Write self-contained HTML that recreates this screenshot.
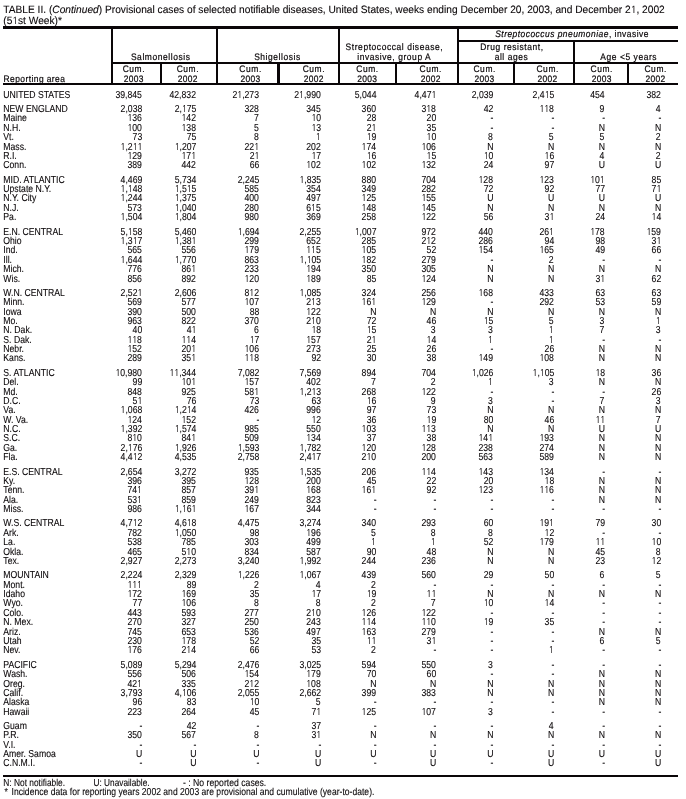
<!DOCTYPE html>
<html><head><meta charset="utf-8"><title>TABLE II. (Continued) Provisional cases of selected notifiable diseases</title>
<style>
html,body{margin:0;padding:0;background:#fff}
body{width:686px;height:799px;position:relative;overflow:hidden;font-family:"Liberation Sans",Arial,Helvetica,sans-serif;color:#0a0608}
.t{position:absolute;white-space:nowrap;line-height:1;text-rendering:geometricPrecision;-webkit-text-stroke:0.1px #0a0608}
.o{font-family:NanumGothic,"Liberation Sans",sans-serif}
.h{-webkit-text-stroke:0.2px #0a0608}
.r{position:absolute;background:#0a0608}
#w{position:absolute;left:0;top:0;width:686px;height:799px;will-change:transform}
</style></head><body><div id="w">
<div class="r" style="left:3px;top:26px;width:675px;height:3px"></div>
<div class="r" style="left:457px;top:40px;width:221px;height:2px"></div>
<div class="r" style="left:111px;top:62px;width:567px;height:2px"></div>
<div class="r" style="left:3px;top:83px;width:675px;height:2px"></div>
<div class="r" style="left:3px;top:775px;width:675px;height:2px"></div>
<div class="r" style="left:111px;top:29px;width:2px;height:56px"></div>
<div class="r" style="left:216px;top:29px;width:2px;height:56px"></div>
<div class="r" style="left:338px;top:29px;width:2px;height:56px"></div>
<div class="r" style="left:457px;top:29px;width:2px;height:56px"></div>
<div class="r" style="left:573px;top:42px;width:2px;height:43px"></div>
<div class="r" style="left:160px;top:64px;width:2px;height:19px"></div>
<div class="r" style="left:277px;top:64px;width:3px;height:19px"></div>
<div class="r" style="left:395px;top:64px;width:2px;height:19px"></div>
<div class="r" style="left:513px;top:64px;width:2px;height:19px"></div>
<div class="r" style="left:627px;top:64px;width:2px;height:19px"></div>
<div class="t" id="title1" style="left:3px;top:4.66px;font-size:10.6px;transform:translateX(0.30px) scaleX(0.961);transform-origin:0 0;">TABLE II. (<i>Continued</i>) Provisional cases of selected notifiable diseases, United States, weeks ending December 20, 2003, and December 2<span class="o" style="font-size:9.82px;letter-spacing:-0.054px">1</span>, 2002</div>
<div class="t" id="title2" style="left:3px;top:16.36px;font-size:10.6px;transform:translateX(0.30px) scaleX(0.961);transform-origin:0 0;">(5<span class="o" style="font-size:9.82px;letter-spacing:-0.054px">1</span>st Week)*</div>
<div class="t h" style="left:3px;top:73.77px;font-size:9.4px;letter-spacing:0.47px;transform:translateX(0.60px) scaleX(0.9);transform-origin:0 0;">Reporting area</div>
<div class="t h" style="left:-40px;width:400px;text-align:center;top:51.67px;font-size:9.4px;letter-spacing:0.64px;transform:translateX(0.69px) scaleX(0.9);transform-origin:50% 0;">Salmonellosis</div>
<div class="t h" style="left:77px;width:400px;text-align:center;top:51.97px;font-size:9.4px;letter-spacing:0.64px;transform:translateX(0.49px) scaleX(0.9);transform-origin:50% 0;">Shigellosis</div>
<div class="t h" style="left:194px;width:400px;text-align:center;top:42.17px;font-size:9.4px;letter-spacing:0.64px;transform:translateX(0.39px) scaleX(0.9);transform-origin:50% 0;">Streptococcal disease,</div>
<div class="t h" style="left:194px;width:400px;text-align:center;top:52.27px;font-size:9.4px;letter-spacing:0.64px;transform:translateX(0.29px) scaleX(0.9);transform-origin:50% 0;">invasive, group A</div>
<div class="t h" style="left:372px;width:400px;text-align:center;top:28.97px;font-size:9.4px;letter-spacing:0.53px;transform:translateX(0.04px) scaleX(0.9);transform-origin:50% 0;"><i>Streptococcus pneumoniae</i>, invasive</div>
<div class="t h" style="left:311px;width:400px;text-align:center;top:42.17px;font-size:9.4px;letter-spacing:0.64px;transform:translateX(0.89px) scaleX(0.9);transform-origin:50% 0;">Drug resistant,</div>
<div class="t h" style="left:311px;width:400px;text-align:center;top:51.77px;font-size:9.4px;letter-spacing:0.64px;transform:translateX(0.49px) scaleX(0.9);transform-origin:50% 0;">all ages</div>
<div class="t h" style="left:428px;width:400px;text-align:center;top:51.77px;font-size:9.4px;letter-spacing:0.64px;transform:translateX(0.69px) scaleX(0.9);transform-origin:50% 0;">Age &lt;5 years</div>
<div class="t h" style="left:-67px;width:400px;text-align:center;top:63.87px;font-size:9.4px;letter-spacing:0.64px;transform:translateX(0.89px) scaleX(0.9);transform-origin:50% 0;">Cum.</div>
<div class="t h" style="left:-67px;width:400px;text-align:center;top:73.87px;font-size:9.4px;letter-spacing:0.35px;transform:translateX(0.76px) scaleX(0.9);transform-origin:50% 0;">2003</div>
<div class="t h" style="left:-13px;width:400px;text-align:center;top:63.87px;font-size:9.4px;letter-spacing:0.64px;transform:translateX(0.89px) scaleX(0.9);transform-origin:50% 0;">Cum.</div>
<div class="t h" style="left:-13px;width:400px;text-align:center;top:73.87px;font-size:9.4px;letter-spacing:0.35px;transform:translateX(0.76px) scaleX(0.9);transform-origin:50% 0;">2002</div>
<div class="t h" style="left:50px;width:400px;text-align:center;top:63.87px;font-size:9.4px;letter-spacing:0.64px;transform:translateX(0.59px) scaleX(0.9);transform-origin:50% 0;">Cum.</div>
<div class="t h" style="left:50px;width:400px;text-align:center;top:73.87px;font-size:9.4px;letter-spacing:0.35px;transform:translateX(0.46px) scaleX(0.9);transform-origin:50% 0;">2003</div>
<div class="t h" style="left:113px;width:400px;text-align:center;top:63.87px;font-size:9.4px;letter-spacing:0.64px;transform:translateX(0.89px) scaleX(0.9);transform-origin:50% 0;">Cum.</div>
<div class="t h" style="left:113px;width:400px;text-align:center;top:73.87px;font-size:9.4px;letter-spacing:0.35px;transform:translateX(0.76px) scaleX(0.9);transform-origin:50% 0;">2002</div>
<div class="t h" style="left:167px;width:400px;text-align:center;top:63.87px;font-size:9.4px;letter-spacing:0.64px;transform:translateX(0.49px) scaleX(0.9);transform-origin:50% 0;">Cum.</div>
<div class="t h" style="left:167px;width:400px;text-align:center;top:73.87px;font-size:9.4px;letter-spacing:0.35px;transform:translateX(0.36px) scaleX(0.9);transform-origin:50% 0;">2003</div>
<div class="t h" style="left:230px;width:400px;text-align:center;top:63.87px;font-size:9.4px;letter-spacing:0.64px;transform:translateX(0.79px) scaleX(0.9);transform-origin:50% 0;">Cum.</div>
<div class="t h" style="left:230px;width:400px;text-align:center;top:73.87px;font-size:9.4px;letter-spacing:0.35px;transform:translateX(0.66px) scaleX(0.9);transform-origin:50% 0;">2002</div>
<div class="t h" style="left:284px;width:400px;text-align:center;top:63.87px;font-size:9.4px;letter-spacing:0.64px;transform:translateX(0.69px) scaleX(0.9);transform-origin:50% 0;">Cum.</div>
<div class="t h" style="left:284px;width:400px;text-align:center;top:73.87px;font-size:9.4px;letter-spacing:0.35px;transform:translateX(0.56px) scaleX(0.9);transform-origin:50% 0;">2003</div>
<div class="t h" style="left:347px;width:400px;text-align:center;top:63.87px;font-size:9.4px;letter-spacing:0.64px;transform:translateX(0.69px) scaleX(0.9);transform-origin:50% 0;">Cum.</div>
<div class="t h" style="left:347px;width:400px;text-align:center;top:73.87px;font-size:9.4px;letter-spacing:0.35px;transform:translateX(0.56px) scaleX(0.9);transform-origin:50% 0;">2002</div>
<div class="t h" style="left:401px;width:400px;text-align:center;top:63.87px;font-size:9.4px;letter-spacing:0.64px;transform:translateX(0.79px) scaleX(0.9);transform-origin:50% 0;">Cum.</div>
<div class="t h" style="left:401px;width:400px;text-align:center;top:73.87px;font-size:9.4px;letter-spacing:0.35px;transform:translateX(0.66px) scaleX(0.9);transform-origin:50% 0;">2003</div>
<div class="t h" style="left:455px;width:400px;text-align:center;top:63.87px;font-size:9.4px;letter-spacing:0.64px;transform:translateX(0.69px) scaleX(0.9);transform-origin:50% 0;">Cum.</div>
<div class="t h" style="left:455px;width:400px;text-align:center;top:73.87px;font-size:9.4px;letter-spacing:0.35px;transform:translateX(0.56px) scaleX(0.9);transform-origin:50% 0;">2002</div>
<div class="t" style="left:3px;top:91.00px;font-size:10.1px;transform:translateX(0.30px) scaleX(0.858);transform-origin:0 0;">UNITED STATES</div>
<div class="t" style="right:544px;top:91.00px;font-size:10.1px;transform:scaleX(0.858);transform-origin:100% 0;">39,845</div>
<div class="t" style="right:489px;top:91.00px;font-size:10.1px;transform:translateX(-0.90px) scaleX(0.858);transform-origin:100% 0;">42,832</div>
<div class="t" style="right:426px;top:91.00px;font-size:10.1px;transform:translateX(-0.90px) scaleX(0.858);transform-origin:100% 0;">2<span class="o" style="font-size:9.35px;letter-spacing:-0.052px">1</span>,273</div>
<div class="t" style="right:365px;top:91.00px;font-size:10.1px;transform:translateX(-0.10px) scaleX(0.858);transform-origin:100% 0;">2<span class="o" style="font-size:9.35px;letter-spacing:-0.052px">1</span>,990</div>
<div class="t" style="right:309px;top:91.00px;font-size:10.1px;transform:translateX(-0.80px) scaleX(0.858);transform-origin:100% 0;">5,044</div>
<div class="t" style="right:250px;top:91.00px;font-size:10.1px;transform:scaleX(0.858);transform-origin:100% 0;">4,47<span class="o" style="font-size:9.35px;letter-spacing:-0.052px">1</span></div>
<div class="t" style="right:192px;top:91.00px;font-size:10.1px;transform:translateX(-0.90px) scaleX(0.858);transform-origin:100% 0;">2,039</div>
<div class="t" style="right:132px;top:91.00px;font-size:10.1px;transform:scaleX(0.858);transform-origin:100% 0;">2,4<span class="o" style="font-size:9.35px;letter-spacing:-0.052px">1</span>5</div>
<div class="t" style="right:81px;top:91.00px;font-size:10.1px;transform:translateX(-0.20px) scaleX(0.858);transform-origin:100% 0;">454</div>
<div class="t" style="right:25px;top:91.00px;font-size:10.1px;transform:scaleX(0.858);transform-origin:100% 0;">382</div>
<div class="t" style="left:3px;top:105.00px;font-size:10.1px;transform:translateX(0.30px) scaleX(0.858);transform-origin:0 0;">NEW ENGLAND</div>
<div class="t" style="right:544px;top:105.00px;font-size:10.1px;transform:scaleX(0.858);transform-origin:100% 0;">2,038</div>
<div class="t" style="right:489px;top:105.00px;font-size:10.1px;transform:translateX(-0.90px) scaleX(0.858);transform-origin:100% 0;">2,<span class="o" style="font-size:9.35px;letter-spacing:-0.052px">1</span>75</div>
<div class="t" style="right:426px;top:105.00px;font-size:10.1px;transform:translateX(-0.90px) scaleX(0.858);transform-origin:100% 0;">328</div>
<div class="t" style="right:365px;top:105.00px;font-size:10.1px;transform:translateX(-0.10px) scaleX(0.858);transform-origin:100% 0;">345</div>
<div class="t" style="right:309px;top:105.00px;font-size:10.1px;transform:translateX(-0.80px) scaleX(0.858);transform-origin:100% 0;">360</div>
<div class="t" style="right:250px;top:105.00px;font-size:10.1px;transform:scaleX(0.858);transform-origin:100% 0;">3<span class="o" style="font-size:9.35px;letter-spacing:-0.052px">1</span>8</div>
<div class="t" style="right:192px;top:105.00px;font-size:10.1px;transform:translateX(-0.90px) scaleX(0.858);transform-origin:100% 0;">42</div>
<div class="t" style="right:132px;top:105.00px;font-size:10.1px;transform:scaleX(0.858);transform-origin:100% 0;"><span class="o" style="font-size:9.35px;letter-spacing:-0.052px">1</span><span class="o" style="font-size:9.35px;letter-spacing:-0.052px">1</span>8</div>
<div class="t" style="right:81px;top:105.00px;font-size:10.1px;transform:translateX(-0.20px) scaleX(0.858);transform-origin:100% 0;">9</div>
<div class="t" style="right:25px;top:105.00px;font-size:10.1px;transform:scaleX(0.858);transform-origin:100% 0;">4</div>
<div class="t" style="left:3px;top:114.00px;font-size:10.1px;transform:translateX(0.30px) scaleX(0.858);transform-origin:0 0;">Maine</div>
<div class="t" style="right:544px;top:114.00px;font-size:10.1px;transform:scaleX(0.858);transform-origin:100% 0;"><span class="o" style="font-size:9.35px;letter-spacing:-0.052px">1</span>36</div>
<div class="t" style="right:489px;top:114.00px;font-size:10.1px;transform:translateX(-0.90px) scaleX(0.858);transform-origin:100% 0;"><span class="o" style="font-size:9.35px;letter-spacing:-0.052px">1</span>42</div>
<div class="t" style="right:426px;top:114.00px;font-size:10.1px;transform:translateX(-0.90px) scaleX(0.858);transform-origin:100% 0;">7</div>
<div class="t" style="right:365px;top:114.00px;font-size:10.1px;transform:translateX(-0.10px) scaleX(0.858);transform-origin:100% 0;"><span class="o" style="font-size:9.35px;letter-spacing:-0.052px">1</span>0</div>
<div class="t" style="right:309px;top:114.00px;font-size:10.1px;transform:translateX(-0.80px) scaleX(0.858);transform-origin:100% 0;">28</div>
<div class="t" style="right:250px;top:114.00px;font-size:10.1px;transform:scaleX(0.858);transform-origin:100% 0;">20</div>
<div class="t" style="right:192px;top:114.00px;font-size:10.1px;transform:translateX(-0.90px) scaleX(0.858);transform-origin:100% 0;">-</div>
<div class="t" style="right:132px;top:114.00px;font-size:10.1px;transform:scaleX(0.858);transform-origin:100% 0;">-</div>
<div class="t" style="right:81px;top:114.00px;font-size:10.1px;transform:translateX(-0.20px) scaleX(0.858);transform-origin:100% 0;">-</div>
<div class="t" style="right:25px;top:114.00px;font-size:10.1px;transform:scaleX(0.858);transform-origin:100% 0;">-</div>
<div class="t" style="left:3px;top:124.00px;font-size:10.1px;transform:translateX(0.30px) scaleX(0.858);transform-origin:0 0;">N.H.</div>
<div class="t" style="right:544px;top:124.00px;font-size:10.1px;transform:scaleX(0.858);transform-origin:100% 0;"><span class="o" style="font-size:9.35px;letter-spacing:-0.052px">1</span>00</div>
<div class="t" style="right:489px;top:124.00px;font-size:10.1px;transform:translateX(-0.90px) scaleX(0.858);transform-origin:100% 0;"><span class="o" style="font-size:9.35px;letter-spacing:-0.052px">1</span>38</div>
<div class="t" style="right:426px;top:124.00px;font-size:10.1px;transform:translateX(-0.90px) scaleX(0.858);transform-origin:100% 0;">5</div>
<div class="t" style="right:365px;top:124.00px;font-size:10.1px;transform:translateX(-0.10px) scaleX(0.858);transform-origin:100% 0;"><span class="o" style="font-size:9.35px;letter-spacing:-0.052px">1</span>3</div>
<div class="t" style="right:309px;top:124.00px;font-size:10.1px;transform:translateX(-0.80px) scaleX(0.858);transform-origin:100% 0;">2<span class="o" style="font-size:9.35px;letter-spacing:-0.052px">1</span></div>
<div class="t" style="right:250px;top:124.00px;font-size:10.1px;transform:scaleX(0.858);transform-origin:100% 0;">35</div>
<div class="t" style="right:192px;top:124.00px;font-size:10.1px;transform:translateX(-0.90px) scaleX(0.858);transform-origin:100% 0;">-</div>
<div class="t" style="right:132px;top:124.00px;font-size:10.1px;transform:scaleX(0.858);transform-origin:100% 0;">-</div>
<div class="t" style="right:81px;top:124.00px;font-size:10.1px;transform:translateX(-0.20px) scaleX(0.858);transform-origin:100% 0;">N</div>
<div class="t" style="right:25px;top:124.00px;font-size:10.1px;transform:scaleX(0.858);transform-origin:100% 0;">N</div>
<div class="t" style="left:3px;top:133.00px;font-size:10.1px;transform:translateX(0.30px) scaleX(0.858);transform-origin:0 0;">Vt.</div>
<div class="t" style="right:544px;top:133.00px;font-size:10.1px;transform:scaleX(0.858);transform-origin:100% 0;">73</div>
<div class="t" style="right:489px;top:133.00px;font-size:10.1px;transform:translateX(-0.90px) scaleX(0.858);transform-origin:100% 0;">75</div>
<div class="t" style="right:426px;top:133.00px;font-size:10.1px;transform:translateX(-0.90px) scaleX(0.858);transform-origin:100% 0;">8</div>
<div class="t" style="right:365px;top:133.00px;font-size:10.1px;transform:translateX(-0.10px) scaleX(0.858);transform-origin:100% 0;"><span class="o" style="font-size:9.35px;letter-spacing:-0.052px">1</span></div>
<div class="t" style="right:309px;top:133.00px;font-size:10.1px;transform:translateX(-0.80px) scaleX(0.858);transform-origin:100% 0;"><span class="o" style="font-size:9.35px;letter-spacing:-0.052px">1</span>9</div>
<div class="t" style="right:250px;top:133.00px;font-size:10.1px;transform:scaleX(0.858);transform-origin:100% 0;"><span class="o" style="font-size:9.35px;letter-spacing:-0.052px">1</span>0</div>
<div class="t" style="right:192px;top:133.00px;font-size:10.1px;transform:translateX(-0.90px) scaleX(0.858);transform-origin:100% 0;">8</div>
<div class="t" style="right:132px;top:133.00px;font-size:10.1px;transform:scaleX(0.858);transform-origin:100% 0;">5</div>
<div class="t" style="right:81px;top:133.00px;font-size:10.1px;transform:translateX(-0.20px) scaleX(0.858);transform-origin:100% 0;">5</div>
<div class="t" style="right:25px;top:133.00px;font-size:10.1px;transform:scaleX(0.858);transform-origin:100% 0;">2</div>
<div class="t" style="left:3px;top:143.00px;font-size:10.1px;transform:translateX(0.30px) scaleX(0.858);transform-origin:0 0;">Mass.</div>
<div class="t" style="right:544px;top:143.00px;font-size:10.1px;transform:scaleX(0.858);transform-origin:100% 0;"><span class="o" style="font-size:9.35px;letter-spacing:-0.052px">1</span>,2<span class="o" style="font-size:9.35px;letter-spacing:-0.052px">1</span><span class="o" style="font-size:9.35px;letter-spacing:-0.052px">1</span></div>
<div class="t" style="right:489px;top:143.00px;font-size:10.1px;transform:translateX(-0.90px) scaleX(0.858);transform-origin:100% 0;"><span class="o" style="font-size:9.35px;letter-spacing:-0.052px">1</span>,207</div>
<div class="t" style="right:426px;top:143.00px;font-size:10.1px;transform:translateX(-0.90px) scaleX(0.858);transform-origin:100% 0;">22<span class="o" style="font-size:9.35px;letter-spacing:-0.052px">1</span></div>
<div class="t" style="right:365px;top:143.00px;font-size:10.1px;transform:translateX(-0.10px) scaleX(0.858);transform-origin:100% 0;">202</div>
<div class="t" style="right:309px;top:143.00px;font-size:10.1px;transform:translateX(-0.80px) scaleX(0.858);transform-origin:100% 0;"><span class="o" style="font-size:9.35px;letter-spacing:-0.052px">1</span>74</div>
<div class="t" style="right:250px;top:143.00px;font-size:10.1px;transform:scaleX(0.858);transform-origin:100% 0;"><span class="o" style="font-size:9.35px;letter-spacing:-0.052px">1</span>06</div>
<div class="t" style="right:192px;top:143.00px;font-size:10.1px;transform:translateX(-0.90px) scaleX(0.858);transform-origin:100% 0;">N</div>
<div class="t" style="right:132px;top:143.00px;font-size:10.1px;transform:scaleX(0.858);transform-origin:100% 0;">N</div>
<div class="t" style="right:81px;top:143.00px;font-size:10.1px;transform:translateX(-0.20px) scaleX(0.858);transform-origin:100% 0;">N</div>
<div class="t" style="right:25px;top:143.00px;font-size:10.1px;transform:scaleX(0.858);transform-origin:100% 0;">N</div>
<div class="t" style="left:3px;top:152.00px;font-size:10.1px;transform:translateX(0.30px) scaleX(0.858);transform-origin:0 0;">R.I.</div>
<div class="t" style="right:544px;top:152.00px;font-size:10.1px;transform:scaleX(0.858);transform-origin:100% 0;"><span class="o" style="font-size:9.35px;letter-spacing:-0.052px">1</span>29</div>
<div class="t" style="right:489px;top:152.00px;font-size:10.1px;transform:translateX(-0.90px) scaleX(0.858);transform-origin:100% 0;"><span class="o" style="font-size:9.35px;letter-spacing:-0.052px">1</span>7<span class="o" style="font-size:9.35px;letter-spacing:-0.052px">1</span></div>
<div class="t" style="right:426px;top:152.00px;font-size:10.1px;transform:translateX(-0.90px) scaleX(0.858);transform-origin:100% 0;">2<span class="o" style="font-size:9.35px;letter-spacing:-0.052px">1</span></div>
<div class="t" style="right:365px;top:152.00px;font-size:10.1px;transform:translateX(-0.10px) scaleX(0.858);transform-origin:100% 0;"><span class="o" style="font-size:9.35px;letter-spacing:-0.052px">1</span>7</div>
<div class="t" style="right:309px;top:152.00px;font-size:10.1px;transform:translateX(-0.80px) scaleX(0.858);transform-origin:100% 0;"><span class="o" style="font-size:9.35px;letter-spacing:-0.052px">1</span>6</div>
<div class="t" style="right:250px;top:152.00px;font-size:10.1px;transform:scaleX(0.858);transform-origin:100% 0;"><span class="o" style="font-size:9.35px;letter-spacing:-0.052px">1</span>5</div>
<div class="t" style="right:192px;top:152.00px;font-size:10.1px;transform:translateX(-0.90px) scaleX(0.858);transform-origin:100% 0;"><span class="o" style="font-size:9.35px;letter-spacing:-0.052px">1</span>0</div>
<div class="t" style="right:132px;top:152.00px;font-size:10.1px;transform:scaleX(0.858);transform-origin:100% 0;"><span class="o" style="font-size:9.35px;letter-spacing:-0.052px">1</span>6</div>
<div class="t" style="right:81px;top:152.00px;font-size:10.1px;transform:translateX(-0.20px) scaleX(0.858);transform-origin:100% 0;">4</div>
<div class="t" style="right:25px;top:152.00px;font-size:10.1px;transform:scaleX(0.858);transform-origin:100% 0;">2</div>
<div class="t" style="left:3px;top:161.00px;font-size:10.1px;transform:translateX(0.30px) scaleX(0.858);transform-origin:0 0;">Conn.</div>
<div class="t" style="right:544px;top:161.00px;font-size:10.1px;transform:scaleX(0.858);transform-origin:100% 0;">389</div>
<div class="t" style="right:489px;top:161.00px;font-size:10.1px;transform:translateX(-0.90px) scaleX(0.858);transform-origin:100% 0;">442</div>
<div class="t" style="right:426px;top:161.00px;font-size:10.1px;transform:translateX(-0.90px) scaleX(0.858);transform-origin:100% 0;">66</div>
<div class="t" style="right:365px;top:161.00px;font-size:10.1px;transform:translateX(-0.10px) scaleX(0.858);transform-origin:100% 0;"><span class="o" style="font-size:9.35px;letter-spacing:-0.052px">1</span>02</div>
<div class="t" style="right:309px;top:161.00px;font-size:10.1px;transform:translateX(-0.80px) scaleX(0.858);transform-origin:100% 0;"><span class="o" style="font-size:9.35px;letter-spacing:-0.052px">1</span>02</div>
<div class="t" style="right:250px;top:161.00px;font-size:10.1px;transform:scaleX(0.858);transform-origin:100% 0;"><span class="o" style="font-size:9.35px;letter-spacing:-0.052px">1</span>32</div>
<div class="t" style="right:192px;top:161.00px;font-size:10.1px;transform:translateX(-0.90px) scaleX(0.858);transform-origin:100% 0;">24</div>
<div class="t" style="right:132px;top:161.00px;font-size:10.1px;transform:scaleX(0.858);transform-origin:100% 0;">97</div>
<div class="t" style="right:81px;top:161.00px;font-size:10.1px;transform:translateX(-0.20px) scaleX(0.858);transform-origin:100% 0;">U</div>
<div class="t" style="right:25px;top:161.00px;font-size:10.1px;transform:scaleX(0.858);transform-origin:100% 0;">U</div>
<div class="t" style="left:3px;top:176.00px;font-size:10.1px;transform:translateX(0.30px) scaleX(0.858);transform-origin:0 0;">MID. ATLANTIC</div>
<div class="t" style="right:544px;top:176.00px;font-size:10.1px;transform:scaleX(0.858);transform-origin:100% 0;">4,469</div>
<div class="t" style="right:489px;top:176.00px;font-size:10.1px;transform:translateX(-0.90px) scaleX(0.858);transform-origin:100% 0;">5,734</div>
<div class="t" style="right:426px;top:176.00px;font-size:10.1px;transform:translateX(-0.90px) scaleX(0.858);transform-origin:100% 0;">2,245</div>
<div class="t" style="right:365px;top:176.00px;font-size:10.1px;transform:translateX(-0.10px) scaleX(0.858);transform-origin:100% 0;"><span class="o" style="font-size:9.35px;letter-spacing:-0.052px">1</span>,835</div>
<div class="t" style="right:309px;top:176.00px;font-size:10.1px;transform:translateX(-0.80px) scaleX(0.858);transform-origin:100% 0;">880</div>
<div class="t" style="right:250px;top:176.00px;font-size:10.1px;transform:scaleX(0.858);transform-origin:100% 0;">704</div>
<div class="t" style="right:192px;top:176.00px;font-size:10.1px;transform:translateX(-0.90px) scaleX(0.858);transform-origin:100% 0;"><span class="o" style="font-size:9.35px;letter-spacing:-0.052px">1</span>28</div>
<div class="t" style="right:132px;top:176.00px;font-size:10.1px;transform:scaleX(0.858);transform-origin:100% 0;"><span class="o" style="font-size:9.35px;letter-spacing:-0.052px">1</span>23</div>
<div class="t" style="right:81px;top:176.00px;font-size:10.1px;transform:translateX(-0.20px) scaleX(0.858);transform-origin:100% 0;"><span class="o" style="font-size:9.35px;letter-spacing:-0.052px">1</span>0<span class="o" style="font-size:9.35px;letter-spacing:-0.052px">1</span></div>
<div class="t" style="right:25px;top:176.00px;font-size:10.1px;transform:scaleX(0.858);transform-origin:100% 0;">85</div>
<div class="t" style="left:3px;top:185.00px;font-size:10.1px;transform:translateX(0.30px) scaleX(0.858);transform-origin:0 0;">Upstate N.Y.</div>
<div class="t" style="right:544px;top:185.00px;font-size:10.1px;transform:scaleX(0.858);transform-origin:100% 0;"><span class="o" style="font-size:9.35px;letter-spacing:-0.052px">1</span>,<span class="o" style="font-size:9.35px;letter-spacing:-0.052px">1</span>48</div>
<div class="t" style="right:489px;top:185.00px;font-size:10.1px;transform:translateX(-0.90px) scaleX(0.858);transform-origin:100% 0;"><span class="o" style="font-size:9.35px;letter-spacing:-0.052px">1</span>,5<span class="o" style="font-size:9.35px;letter-spacing:-0.052px">1</span>5</div>
<div class="t" style="right:426px;top:185.00px;font-size:10.1px;transform:translateX(-0.90px) scaleX(0.858);transform-origin:100% 0;">585</div>
<div class="t" style="right:365px;top:185.00px;font-size:10.1px;transform:translateX(-0.10px) scaleX(0.858);transform-origin:100% 0;">354</div>
<div class="t" style="right:309px;top:185.00px;font-size:10.1px;transform:translateX(-0.80px) scaleX(0.858);transform-origin:100% 0;">349</div>
<div class="t" style="right:250px;top:185.00px;font-size:10.1px;transform:scaleX(0.858);transform-origin:100% 0;">282</div>
<div class="t" style="right:192px;top:185.00px;font-size:10.1px;transform:translateX(-0.90px) scaleX(0.858);transform-origin:100% 0;">72</div>
<div class="t" style="right:132px;top:185.00px;font-size:10.1px;transform:scaleX(0.858);transform-origin:100% 0;">92</div>
<div class="t" style="right:81px;top:185.00px;font-size:10.1px;transform:translateX(-0.20px) scaleX(0.858);transform-origin:100% 0;">77</div>
<div class="t" style="right:25px;top:185.00px;font-size:10.1px;transform:scaleX(0.858);transform-origin:100% 0;">7<span class="o" style="font-size:9.35px;letter-spacing:-0.052px">1</span></div>
<div class="t" style="left:3px;top:194.00px;font-size:10.1px;transform:translateX(0.30px) scaleX(0.858);transform-origin:0 0;">N.Y. City</div>
<div class="t" style="right:544px;top:194.00px;font-size:10.1px;transform:scaleX(0.858);transform-origin:100% 0;"><span class="o" style="font-size:9.35px;letter-spacing:-0.052px">1</span>,244</div>
<div class="t" style="right:489px;top:194.00px;font-size:10.1px;transform:translateX(-0.90px) scaleX(0.858);transform-origin:100% 0;"><span class="o" style="font-size:9.35px;letter-spacing:-0.052px">1</span>,375</div>
<div class="t" style="right:426px;top:194.00px;font-size:10.1px;transform:translateX(-0.90px) scaleX(0.858);transform-origin:100% 0;">400</div>
<div class="t" style="right:365px;top:194.00px;font-size:10.1px;transform:translateX(-0.10px) scaleX(0.858);transform-origin:100% 0;">497</div>
<div class="t" style="right:309px;top:194.00px;font-size:10.1px;transform:translateX(-0.80px) scaleX(0.858);transform-origin:100% 0;"><span class="o" style="font-size:9.35px;letter-spacing:-0.052px">1</span>25</div>
<div class="t" style="right:250px;top:194.00px;font-size:10.1px;transform:scaleX(0.858);transform-origin:100% 0;"><span class="o" style="font-size:9.35px;letter-spacing:-0.052px">1</span>55</div>
<div class="t" style="right:192px;top:194.00px;font-size:10.1px;transform:translateX(-0.90px) scaleX(0.858);transform-origin:100% 0;">U</div>
<div class="t" style="right:132px;top:194.00px;font-size:10.1px;transform:scaleX(0.858);transform-origin:100% 0;">U</div>
<div class="t" style="right:81px;top:194.00px;font-size:10.1px;transform:translateX(-0.20px) scaleX(0.858);transform-origin:100% 0;">U</div>
<div class="t" style="right:25px;top:194.00px;font-size:10.1px;transform:scaleX(0.858);transform-origin:100% 0;">U</div>
<div class="t" style="left:3px;top:204.00px;font-size:10.1px;transform:translateX(0.30px) scaleX(0.858);transform-origin:0 0;">N.J.</div>
<div class="t" style="right:544px;top:204.00px;font-size:10.1px;transform:scaleX(0.858);transform-origin:100% 0;">573</div>
<div class="t" style="right:489px;top:204.00px;font-size:10.1px;transform:translateX(-0.90px) scaleX(0.858);transform-origin:100% 0;"><span class="o" style="font-size:9.35px;letter-spacing:-0.052px">1</span>,040</div>
<div class="t" style="right:426px;top:204.00px;font-size:10.1px;transform:translateX(-0.90px) scaleX(0.858);transform-origin:100% 0;">280</div>
<div class="t" style="right:365px;top:204.00px;font-size:10.1px;transform:translateX(-0.10px) scaleX(0.858);transform-origin:100% 0;">6<span class="o" style="font-size:9.35px;letter-spacing:-0.052px">1</span>5</div>
<div class="t" style="right:309px;top:204.00px;font-size:10.1px;transform:translateX(-0.80px) scaleX(0.858);transform-origin:100% 0;"><span class="o" style="font-size:9.35px;letter-spacing:-0.052px">1</span>48</div>
<div class="t" style="right:250px;top:204.00px;font-size:10.1px;transform:scaleX(0.858);transform-origin:100% 0;"><span class="o" style="font-size:9.35px;letter-spacing:-0.052px">1</span>45</div>
<div class="t" style="right:192px;top:204.00px;font-size:10.1px;transform:translateX(-0.90px) scaleX(0.858);transform-origin:100% 0;">N</div>
<div class="t" style="right:132px;top:204.00px;font-size:10.1px;transform:scaleX(0.858);transform-origin:100% 0;">N</div>
<div class="t" style="right:81px;top:204.00px;font-size:10.1px;transform:translateX(-0.20px) scaleX(0.858);transform-origin:100% 0;">N</div>
<div class="t" style="right:25px;top:204.00px;font-size:10.1px;transform:scaleX(0.858);transform-origin:100% 0;">N</div>
<div class="t" style="left:3px;top:213.00px;font-size:10.1px;transform:translateX(0.30px) scaleX(0.858);transform-origin:0 0;">Pa.</div>
<div class="t" style="right:544px;top:213.00px;font-size:10.1px;transform:scaleX(0.858);transform-origin:100% 0;"><span class="o" style="font-size:9.35px;letter-spacing:-0.052px">1</span>,504</div>
<div class="t" style="right:489px;top:213.00px;font-size:10.1px;transform:translateX(-0.90px) scaleX(0.858);transform-origin:100% 0;"><span class="o" style="font-size:9.35px;letter-spacing:-0.052px">1</span>,804</div>
<div class="t" style="right:426px;top:213.00px;font-size:10.1px;transform:translateX(-0.90px) scaleX(0.858);transform-origin:100% 0;">980</div>
<div class="t" style="right:365px;top:213.00px;font-size:10.1px;transform:translateX(-0.10px) scaleX(0.858);transform-origin:100% 0;">369</div>
<div class="t" style="right:309px;top:213.00px;font-size:10.1px;transform:translateX(-0.80px) scaleX(0.858);transform-origin:100% 0;">258</div>
<div class="t" style="right:250px;top:213.00px;font-size:10.1px;transform:scaleX(0.858);transform-origin:100% 0;"><span class="o" style="font-size:9.35px;letter-spacing:-0.052px">1</span>22</div>
<div class="t" style="right:192px;top:213.00px;font-size:10.1px;transform:translateX(-0.90px) scaleX(0.858);transform-origin:100% 0;">56</div>
<div class="t" style="right:132px;top:213.00px;font-size:10.1px;transform:scaleX(0.858);transform-origin:100% 0;">3<span class="o" style="font-size:9.35px;letter-spacing:-0.052px">1</span></div>
<div class="t" style="right:81px;top:213.00px;font-size:10.1px;transform:translateX(-0.20px) scaleX(0.858);transform-origin:100% 0;">24</div>
<div class="t" style="right:25px;top:213.00px;font-size:10.1px;transform:scaleX(0.858);transform-origin:100% 0;"><span class="o" style="font-size:9.35px;letter-spacing:-0.052px">1</span>4</div>
<div class="t" style="left:3px;top:228.00px;font-size:10.1px;transform:translateX(0.30px) scaleX(0.858);transform-origin:0 0;">E.N. CENTRAL</div>
<div class="t" style="right:544px;top:228.00px;font-size:10.1px;transform:scaleX(0.858);transform-origin:100% 0;">5,<span class="o" style="font-size:9.35px;letter-spacing:-0.052px">1</span>58</div>
<div class="t" style="right:489px;top:228.00px;font-size:10.1px;transform:translateX(-0.90px) scaleX(0.858);transform-origin:100% 0;">5,460</div>
<div class="t" style="right:426px;top:228.00px;font-size:10.1px;transform:translateX(-0.90px) scaleX(0.858);transform-origin:100% 0;"><span class="o" style="font-size:9.35px;letter-spacing:-0.052px">1</span>,694</div>
<div class="t" style="right:365px;top:228.00px;font-size:10.1px;transform:translateX(-0.10px) scaleX(0.858);transform-origin:100% 0;">2,255</div>
<div class="t" style="right:309px;top:228.00px;font-size:10.1px;transform:translateX(-0.80px) scaleX(0.858);transform-origin:100% 0;"><span class="o" style="font-size:9.35px;letter-spacing:-0.052px">1</span>,007</div>
<div class="t" style="right:250px;top:228.00px;font-size:10.1px;transform:scaleX(0.858);transform-origin:100% 0;">972</div>
<div class="t" style="right:192px;top:228.00px;font-size:10.1px;transform:translateX(-0.90px) scaleX(0.858);transform-origin:100% 0;">440</div>
<div class="t" style="right:132px;top:228.00px;font-size:10.1px;transform:scaleX(0.858);transform-origin:100% 0;">26<span class="o" style="font-size:9.35px;letter-spacing:-0.052px">1</span></div>
<div class="t" style="right:81px;top:228.00px;font-size:10.1px;transform:translateX(-0.20px) scaleX(0.858);transform-origin:100% 0;"><span class="o" style="font-size:9.35px;letter-spacing:-0.052px">1</span>78</div>
<div class="t" style="right:25px;top:228.00px;font-size:10.1px;transform:scaleX(0.858);transform-origin:100% 0;"><span class="o" style="font-size:9.35px;letter-spacing:-0.052px">1</span>59</div>
<div class="t" style="left:3px;top:237.00px;font-size:10.1px;transform:translateX(0.30px) scaleX(0.858);transform-origin:0 0;">Ohio</div>
<div class="t" style="right:544px;top:237.00px;font-size:10.1px;transform:scaleX(0.858);transform-origin:100% 0;"><span class="o" style="font-size:9.35px;letter-spacing:-0.052px">1</span>,3<span class="o" style="font-size:9.35px;letter-spacing:-0.052px">1</span>7</div>
<div class="t" style="right:489px;top:237.00px;font-size:10.1px;transform:translateX(-0.90px) scaleX(0.858);transform-origin:100% 0;"><span class="o" style="font-size:9.35px;letter-spacing:-0.052px">1</span>,38<span class="o" style="font-size:9.35px;letter-spacing:-0.052px">1</span></div>
<div class="t" style="right:426px;top:237.00px;font-size:10.1px;transform:translateX(-0.90px) scaleX(0.858);transform-origin:100% 0;">299</div>
<div class="t" style="right:365px;top:237.00px;font-size:10.1px;transform:translateX(-0.10px) scaleX(0.858);transform-origin:100% 0;">652</div>
<div class="t" style="right:309px;top:237.00px;font-size:10.1px;transform:translateX(-0.80px) scaleX(0.858);transform-origin:100% 0;">285</div>
<div class="t" style="right:250px;top:237.00px;font-size:10.1px;transform:scaleX(0.858);transform-origin:100% 0;">2<span class="o" style="font-size:9.35px;letter-spacing:-0.052px">1</span>2</div>
<div class="t" style="right:192px;top:237.00px;font-size:10.1px;transform:translateX(-0.90px) scaleX(0.858);transform-origin:100% 0;">286</div>
<div class="t" style="right:132px;top:237.00px;font-size:10.1px;transform:scaleX(0.858);transform-origin:100% 0;">94</div>
<div class="t" style="right:81px;top:237.00px;font-size:10.1px;transform:translateX(-0.20px) scaleX(0.858);transform-origin:100% 0;">98</div>
<div class="t" style="right:25px;top:237.00px;font-size:10.1px;transform:scaleX(0.858);transform-origin:100% 0;">3<span class="o" style="font-size:9.35px;letter-spacing:-0.052px">1</span></div>
<div class="t" style="left:3px;top:246.00px;font-size:10.1px;transform:translateX(0.30px) scaleX(0.858);transform-origin:0 0;">Ind.</div>
<div class="t" style="right:544px;top:246.00px;font-size:10.1px;transform:scaleX(0.858);transform-origin:100% 0;">565</div>
<div class="t" style="right:489px;top:246.00px;font-size:10.1px;transform:translateX(-0.90px) scaleX(0.858);transform-origin:100% 0;">556</div>
<div class="t" style="right:426px;top:246.00px;font-size:10.1px;transform:translateX(-0.90px) scaleX(0.858);transform-origin:100% 0;"><span class="o" style="font-size:9.35px;letter-spacing:-0.052px">1</span>79</div>
<div class="t" style="right:365px;top:246.00px;font-size:10.1px;transform:translateX(-0.10px) scaleX(0.858);transform-origin:100% 0;"><span class="o" style="font-size:9.35px;letter-spacing:-0.052px">1</span><span class="o" style="font-size:9.35px;letter-spacing:-0.052px">1</span>5</div>
<div class="t" style="right:309px;top:246.00px;font-size:10.1px;transform:translateX(-0.80px) scaleX(0.858);transform-origin:100% 0;"><span class="o" style="font-size:9.35px;letter-spacing:-0.052px">1</span>05</div>
<div class="t" style="right:250px;top:246.00px;font-size:10.1px;transform:scaleX(0.858);transform-origin:100% 0;">52</div>
<div class="t" style="right:192px;top:246.00px;font-size:10.1px;transform:translateX(-0.90px) scaleX(0.858);transform-origin:100% 0;"><span class="o" style="font-size:9.35px;letter-spacing:-0.052px">1</span>54</div>
<div class="t" style="right:132px;top:246.00px;font-size:10.1px;transform:scaleX(0.858);transform-origin:100% 0;"><span class="o" style="font-size:9.35px;letter-spacing:-0.052px">1</span>65</div>
<div class="t" style="right:81px;top:246.00px;font-size:10.1px;transform:translateX(-0.20px) scaleX(0.858);transform-origin:100% 0;">49</div>
<div class="t" style="right:25px;top:246.00px;font-size:10.1px;transform:scaleX(0.858);transform-origin:100% 0;">66</div>
<div class="t" style="left:3px;top:256.00px;font-size:10.1px;transform:translateX(0.30px) scaleX(0.858);transform-origin:0 0;">Ill.</div>
<div class="t" style="right:544px;top:256.00px;font-size:10.1px;transform:scaleX(0.858);transform-origin:100% 0;"><span class="o" style="font-size:9.35px;letter-spacing:-0.052px">1</span>,644</div>
<div class="t" style="right:489px;top:256.00px;font-size:10.1px;transform:translateX(-0.90px) scaleX(0.858);transform-origin:100% 0;"><span class="o" style="font-size:9.35px;letter-spacing:-0.052px">1</span>,770</div>
<div class="t" style="right:426px;top:256.00px;font-size:10.1px;transform:translateX(-0.90px) scaleX(0.858);transform-origin:100% 0;">863</div>
<div class="t" style="right:365px;top:256.00px;font-size:10.1px;transform:translateX(-0.10px) scaleX(0.858);transform-origin:100% 0;"><span class="o" style="font-size:9.35px;letter-spacing:-0.052px">1</span>,<span class="o" style="font-size:9.35px;letter-spacing:-0.052px">1</span>05</div>
<div class="t" style="right:309px;top:256.00px;font-size:10.1px;transform:translateX(-0.80px) scaleX(0.858);transform-origin:100% 0;"><span class="o" style="font-size:9.35px;letter-spacing:-0.052px">1</span>82</div>
<div class="t" style="right:250px;top:256.00px;font-size:10.1px;transform:scaleX(0.858);transform-origin:100% 0;">279</div>
<div class="t" style="right:192px;top:256.00px;font-size:10.1px;transform:translateX(-0.90px) scaleX(0.858);transform-origin:100% 0;">-</div>
<div class="t" style="right:132px;top:256.00px;font-size:10.1px;transform:scaleX(0.858);transform-origin:100% 0;">2</div>
<div class="t" style="right:81px;top:256.00px;font-size:10.1px;transform:translateX(-0.20px) scaleX(0.858);transform-origin:100% 0;">-</div>
<div class="t" style="right:25px;top:256.00px;font-size:10.1px;transform:scaleX(0.858);transform-origin:100% 0;">-</div>
<div class="t" style="left:3px;top:265.00px;font-size:10.1px;transform:translateX(0.30px) scaleX(0.858);transform-origin:0 0;">Mich.</div>
<div class="t" style="right:544px;top:265.00px;font-size:10.1px;transform:scaleX(0.858);transform-origin:100% 0;">776</div>
<div class="t" style="right:489px;top:265.00px;font-size:10.1px;transform:translateX(-0.90px) scaleX(0.858);transform-origin:100% 0;">86<span class="o" style="font-size:9.35px;letter-spacing:-0.052px">1</span></div>
<div class="t" style="right:426px;top:265.00px;font-size:10.1px;transform:translateX(-0.90px) scaleX(0.858);transform-origin:100% 0;">233</div>
<div class="t" style="right:365px;top:265.00px;font-size:10.1px;transform:translateX(-0.10px) scaleX(0.858);transform-origin:100% 0;"><span class="o" style="font-size:9.35px;letter-spacing:-0.052px">1</span>94</div>
<div class="t" style="right:309px;top:265.00px;font-size:10.1px;transform:translateX(-0.80px) scaleX(0.858);transform-origin:100% 0;">350</div>
<div class="t" style="right:250px;top:265.00px;font-size:10.1px;transform:scaleX(0.858);transform-origin:100% 0;">305</div>
<div class="t" style="right:192px;top:265.00px;font-size:10.1px;transform:translateX(-0.90px) scaleX(0.858);transform-origin:100% 0;">N</div>
<div class="t" style="right:132px;top:265.00px;font-size:10.1px;transform:scaleX(0.858);transform-origin:100% 0;">N</div>
<div class="t" style="right:81px;top:265.00px;font-size:10.1px;transform:translateX(-0.20px) scaleX(0.858);transform-origin:100% 0;">N</div>
<div class="t" style="right:25px;top:265.00px;font-size:10.1px;transform:scaleX(0.858);transform-origin:100% 0;">N</div>
<div class="t" style="left:3px;top:275.00px;font-size:10.1px;transform:translateX(0.30px) scaleX(0.858);transform-origin:0 0;">Wis.</div>
<div class="t" style="right:544px;top:275.00px;font-size:10.1px;transform:scaleX(0.858);transform-origin:100% 0;">856</div>
<div class="t" style="right:489px;top:275.00px;font-size:10.1px;transform:translateX(-0.90px) scaleX(0.858);transform-origin:100% 0;">892</div>
<div class="t" style="right:426px;top:275.00px;font-size:10.1px;transform:translateX(-0.90px) scaleX(0.858);transform-origin:100% 0;"><span class="o" style="font-size:9.35px;letter-spacing:-0.052px">1</span>20</div>
<div class="t" style="right:365px;top:275.00px;font-size:10.1px;transform:translateX(-0.10px) scaleX(0.858);transform-origin:100% 0;"><span class="o" style="font-size:9.35px;letter-spacing:-0.052px">1</span>89</div>
<div class="t" style="right:309px;top:275.00px;font-size:10.1px;transform:translateX(-0.80px) scaleX(0.858);transform-origin:100% 0;">85</div>
<div class="t" style="right:250px;top:275.00px;font-size:10.1px;transform:scaleX(0.858);transform-origin:100% 0;"><span class="o" style="font-size:9.35px;letter-spacing:-0.052px">1</span>24</div>
<div class="t" style="right:192px;top:275.00px;font-size:10.1px;transform:translateX(-0.90px) scaleX(0.858);transform-origin:100% 0;">N</div>
<div class="t" style="right:132px;top:275.00px;font-size:10.1px;transform:scaleX(0.858);transform-origin:100% 0;">N</div>
<div class="t" style="right:81px;top:275.00px;font-size:10.1px;transform:translateX(-0.20px) scaleX(0.858);transform-origin:100% 0;">3<span class="o" style="font-size:9.35px;letter-spacing:-0.052px">1</span></div>
<div class="t" style="right:25px;top:275.00px;font-size:10.1px;transform:scaleX(0.858);transform-origin:100% 0;">62</div>
<div class="t" style="left:3px;top:289.00px;font-size:10.1px;transform:translateX(0.30px) scaleX(0.858);transform-origin:0 0;">W.N. CENTRAL</div>
<div class="t" style="right:544px;top:289.00px;font-size:10.1px;transform:scaleX(0.858);transform-origin:100% 0;">2,52<span class="o" style="font-size:9.35px;letter-spacing:-0.052px">1</span></div>
<div class="t" style="right:489px;top:289.00px;font-size:10.1px;transform:translateX(-0.90px) scaleX(0.858);transform-origin:100% 0;">2,606</div>
<div class="t" style="right:426px;top:289.00px;font-size:10.1px;transform:translateX(-0.90px) scaleX(0.858);transform-origin:100% 0;">8<span class="o" style="font-size:9.35px;letter-spacing:-0.052px">1</span>2</div>
<div class="t" style="right:365px;top:289.00px;font-size:10.1px;transform:translateX(-0.10px) scaleX(0.858);transform-origin:100% 0;"><span class="o" style="font-size:9.35px;letter-spacing:-0.052px">1</span>,085</div>
<div class="t" style="right:309px;top:289.00px;font-size:10.1px;transform:translateX(-0.80px) scaleX(0.858);transform-origin:100% 0;">324</div>
<div class="t" style="right:250px;top:289.00px;font-size:10.1px;transform:scaleX(0.858);transform-origin:100% 0;">256</div>
<div class="t" style="right:192px;top:289.00px;font-size:10.1px;transform:translateX(-0.90px) scaleX(0.858);transform-origin:100% 0;"><span class="o" style="font-size:9.35px;letter-spacing:-0.052px">1</span>68</div>
<div class="t" style="right:132px;top:289.00px;font-size:10.1px;transform:scaleX(0.858);transform-origin:100% 0;">433</div>
<div class="t" style="right:81px;top:289.00px;font-size:10.1px;transform:translateX(-0.20px) scaleX(0.858);transform-origin:100% 0;">63</div>
<div class="t" style="right:25px;top:289.00px;font-size:10.1px;transform:scaleX(0.858);transform-origin:100% 0;">63</div>
<div class="t" style="left:3px;top:298.00px;font-size:10.1px;transform:translateX(0.30px) scaleX(0.858);transform-origin:0 0;">Minn.</div>
<div class="t" style="right:544px;top:298.00px;font-size:10.1px;transform:scaleX(0.858);transform-origin:100% 0;">569</div>
<div class="t" style="right:489px;top:298.00px;font-size:10.1px;transform:translateX(-0.90px) scaleX(0.858);transform-origin:100% 0;">577</div>
<div class="t" style="right:426px;top:298.00px;font-size:10.1px;transform:translateX(-0.90px) scaleX(0.858);transform-origin:100% 0;"><span class="o" style="font-size:9.35px;letter-spacing:-0.052px">1</span>07</div>
<div class="t" style="right:365px;top:298.00px;font-size:10.1px;transform:translateX(-0.10px) scaleX(0.858);transform-origin:100% 0;">2<span class="o" style="font-size:9.35px;letter-spacing:-0.052px">1</span>3</div>
<div class="t" style="right:309px;top:298.00px;font-size:10.1px;transform:translateX(-0.80px) scaleX(0.858);transform-origin:100% 0;"><span class="o" style="font-size:9.35px;letter-spacing:-0.052px">1</span>6<span class="o" style="font-size:9.35px;letter-spacing:-0.052px">1</span></div>
<div class="t" style="right:250px;top:298.00px;font-size:10.1px;transform:scaleX(0.858);transform-origin:100% 0;"><span class="o" style="font-size:9.35px;letter-spacing:-0.052px">1</span>29</div>
<div class="t" style="right:192px;top:298.00px;font-size:10.1px;transform:translateX(-0.90px) scaleX(0.858);transform-origin:100% 0;">-</div>
<div class="t" style="right:132px;top:298.00px;font-size:10.1px;transform:scaleX(0.858);transform-origin:100% 0;">292</div>
<div class="t" style="right:81px;top:298.00px;font-size:10.1px;transform:translateX(-0.20px) scaleX(0.858);transform-origin:100% 0;">53</div>
<div class="t" style="right:25px;top:298.00px;font-size:10.1px;transform:scaleX(0.858);transform-origin:100% 0;">59</div>
<div class="t" style="left:3px;top:308.00px;font-size:10.1px;transform:translateX(0.30px) scaleX(0.858);transform-origin:0 0;">Iowa</div>
<div class="t" style="right:544px;top:308.00px;font-size:10.1px;transform:scaleX(0.858);transform-origin:100% 0;">390</div>
<div class="t" style="right:489px;top:308.00px;font-size:10.1px;transform:translateX(-0.90px) scaleX(0.858);transform-origin:100% 0;">500</div>
<div class="t" style="right:426px;top:308.00px;font-size:10.1px;transform:translateX(-0.90px) scaleX(0.858);transform-origin:100% 0;">88</div>
<div class="t" style="right:365px;top:308.00px;font-size:10.1px;transform:translateX(-0.10px) scaleX(0.858);transform-origin:100% 0;"><span class="o" style="font-size:9.35px;letter-spacing:-0.052px">1</span>22</div>
<div class="t" style="right:309px;top:308.00px;font-size:10.1px;transform:translateX(-0.80px) scaleX(0.858);transform-origin:100% 0;">N</div>
<div class="t" style="right:250px;top:308.00px;font-size:10.1px;transform:scaleX(0.858);transform-origin:100% 0;">N</div>
<div class="t" style="right:192px;top:308.00px;font-size:10.1px;transform:translateX(-0.90px) scaleX(0.858);transform-origin:100% 0;">N</div>
<div class="t" style="right:132px;top:308.00px;font-size:10.1px;transform:scaleX(0.858);transform-origin:100% 0;">N</div>
<div class="t" style="right:81px;top:308.00px;font-size:10.1px;transform:translateX(-0.20px) scaleX(0.858);transform-origin:100% 0;">N</div>
<div class="t" style="right:25px;top:308.00px;font-size:10.1px;transform:scaleX(0.858);transform-origin:100% 0;">N</div>
<div class="t" style="left:3px;top:317.00px;font-size:10.1px;transform:translateX(0.30px) scaleX(0.858);transform-origin:0 0;">Mo.</div>
<div class="t" style="right:544px;top:317.00px;font-size:10.1px;transform:scaleX(0.858);transform-origin:100% 0;">963</div>
<div class="t" style="right:489px;top:317.00px;font-size:10.1px;transform:translateX(-0.90px) scaleX(0.858);transform-origin:100% 0;">822</div>
<div class="t" style="right:426px;top:317.00px;font-size:10.1px;transform:translateX(-0.90px) scaleX(0.858);transform-origin:100% 0;">370</div>
<div class="t" style="right:365px;top:317.00px;font-size:10.1px;transform:translateX(-0.10px) scaleX(0.858);transform-origin:100% 0;">2<span class="o" style="font-size:9.35px;letter-spacing:-0.052px">1</span>0</div>
<div class="t" style="right:309px;top:317.00px;font-size:10.1px;transform:translateX(-0.80px) scaleX(0.858);transform-origin:100% 0;">72</div>
<div class="t" style="right:250px;top:317.00px;font-size:10.1px;transform:scaleX(0.858);transform-origin:100% 0;">46</div>
<div class="t" style="right:192px;top:317.00px;font-size:10.1px;transform:translateX(-0.90px) scaleX(0.858);transform-origin:100% 0;"><span class="o" style="font-size:9.35px;letter-spacing:-0.052px">1</span>5</div>
<div class="t" style="right:132px;top:317.00px;font-size:10.1px;transform:scaleX(0.858);transform-origin:100% 0;">5</div>
<div class="t" style="right:81px;top:317.00px;font-size:10.1px;transform:translateX(-0.20px) scaleX(0.858);transform-origin:100% 0;">3</div>
<div class="t" style="right:25px;top:317.00px;font-size:10.1px;transform:scaleX(0.858);transform-origin:100% 0;"><span class="o" style="font-size:9.35px;letter-spacing:-0.052px">1</span></div>
<div class="t" style="left:3px;top:326.00px;font-size:10.1px;transform:translateX(0.30px) scaleX(0.858);transform-origin:0 0;">N. Dak.</div>
<div class="t" style="right:544px;top:326.00px;font-size:10.1px;transform:scaleX(0.858);transform-origin:100% 0;">40</div>
<div class="t" style="right:489px;top:326.00px;font-size:10.1px;transform:translateX(-0.90px) scaleX(0.858);transform-origin:100% 0;">4<span class="o" style="font-size:9.35px;letter-spacing:-0.052px">1</span></div>
<div class="t" style="right:426px;top:326.00px;font-size:10.1px;transform:translateX(-0.90px) scaleX(0.858);transform-origin:100% 0;">6</div>
<div class="t" style="right:365px;top:326.00px;font-size:10.1px;transform:translateX(-0.10px) scaleX(0.858);transform-origin:100% 0;"><span class="o" style="font-size:9.35px;letter-spacing:-0.052px">1</span>8</div>
<div class="t" style="right:309px;top:326.00px;font-size:10.1px;transform:translateX(-0.80px) scaleX(0.858);transform-origin:100% 0;"><span class="o" style="font-size:9.35px;letter-spacing:-0.052px">1</span>5</div>
<div class="t" style="right:250px;top:326.00px;font-size:10.1px;transform:scaleX(0.858);transform-origin:100% 0;">3</div>
<div class="t" style="right:192px;top:326.00px;font-size:10.1px;transform:translateX(-0.90px) scaleX(0.858);transform-origin:100% 0;">3</div>
<div class="t" style="right:132px;top:326.00px;font-size:10.1px;transform:scaleX(0.858);transform-origin:100% 0;"><span class="o" style="font-size:9.35px;letter-spacing:-0.052px">1</span></div>
<div class="t" style="right:81px;top:326.00px;font-size:10.1px;transform:translateX(-0.20px) scaleX(0.858);transform-origin:100% 0;">7</div>
<div class="t" style="right:25px;top:326.00px;font-size:10.1px;transform:scaleX(0.858);transform-origin:100% 0;">3</div>
<div class="t" style="left:3px;top:336.00px;font-size:10.1px;transform:translateX(0.30px) scaleX(0.858);transform-origin:0 0;">S. Dak.</div>
<div class="t" style="right:544px;top:336.00px;font-size:10.1px;transform:scaleX(0.858);transform-origin:100% 0;"><span class="o" style="font-size:9.35px;letter-spacing:-0.052px">1</span><span class="o" style="font-size:9.35px;letter-spacing:-0.052px">1</span>8</div>
<div class="t" style="right:489px;top:336.00px;font-size:10.1px;transform:translateX(-0.90px) scaleX(0.858);transform-origin:100% 0;"><span class="o" style="font-size:9.35px;letter-spacing:-0.052px">1</span><span class="o" style="font-size:9.35px;letter-spacing:-0.052px">1</span>4</div>
<div class="t" style="right:426px;top:336.00px;font-size:10.1px;transform:translateX(-0.90px) scaleX(0.858);transform-origin:100% 0;"><span class="o" style="font-size:9.35px;letter-spacing:-0.052px">1</span>7</div>
<div class="t" style="right:365px;top:336.00px;font-size:10.1px;transform:translateX(-0.10px) scaleX(0.858);transform-origin:100% 0;"><span class="o" style="font-size:9.35px;letter-spacing:-0.052px">1</span>57</div>
<div class="t" style="right:309px;top:336.00px;font-size:10.1px;transform:translateX(-0.80px) scaleX(0.858);transform-origin:100% 0;">2<span class="o" style="font-size:9.35px;letter-spacing:-0.052px">1</span></div>
<div class="t" style="right:250px;top:336.00px;font-size:10.1px;transform:scaleX(0.858);transform-origin:100% 0;"><span class="o" style="font-size:9.35px;letter-spacing:-0.052px">1</span>4</div>
<div class="t" style="right:192px;top:336.00px;font-size:10.1px;transform:translateX(-0.90px) scaleX(0.858);transform-origin:100% 0;"><span class="o" style="font-size:9.35px;letter-spacing:-0.052px">1</span></div>
<div class="t" style="right:132px;top:336.00px;font-size:10.1px;transform:scaleX(0.858);transform-origin:100% 0;"><span class="o" style="font-size:9.35px;letter-spacing:-0.052px">1</span></div>
<div class="t" style="right:81px;top:336.00px;font-size:10.1px;transform:translateX(-0.20px) scaleX(0.858);transform-origin:100% 0;">-</div>
<div class="t" style="right:25px;top:336.00px;font-size:10.1px;transform:scaleX(0.858);transform-origin:100% 0;">-</div>
<div class="t" style="left:3px;top:345.00px;font-size:10.1px;transform:translateX(0.30px) scaleX(0.858);transform-origin:0 0;">Nebr.</div>
<div class="t" style="right:544px;top:345.00px;font-size:10.1px;transform:scaleX(0.858);transform-origin:100% 0;"><span class="o" style="font-size:9.35px;letter-spacing:-0.052px">1</span>52</div>
<div class="t" style="right:489px;top:345.00px;font-size:10.1px;transform:translateX(-0.90px) scaleX(0.858);transform-origin:100% 0;">20<span class="o" style="font-size:9.35px;letter-spacing:-0.052px">1</span></div>
<div class="t" style="right:426px;top:345.00px;font-size:10.1px;transform:translateX(-0.90px) scaleX(0.858);transform-origin:100% 0;"><span class="o" style="font-size:9.35px;letter-spacing:-0.052px">1</span>06</div>
<div class="t" style="right:365px;top:345.00px;font-size:10.1px;transform:translateX(-0.10px) scaleX(0.858);transform-origin:100% 0;">273</div>
<div class="t" style="right:309px;top:345.00px;font-size:10.1px;transform:translateX(-0.80px) scaleX(0.858);transform-origin:100% 0;">25</div>
<div class="t" style="right:250px;top:345.00px;font-size:10.1px;transform:scaleX(0.858);transform-origin:100% 0;">26</div>
<div class="t" style="right:192px;top:345.00px;font-size:10.1px;transform:translateX(-0.90px) scaleX(0.858);transform-origin:100% 0;">-</div>
<div class="t" style="right:132px;top:345.00px;font-size:10.1px;transform:scaleX(0.858);transform-origin:100% 0;">26</div>
<div class="t" style="right:81px;top:345.00px;font-size:10.1px;transform:translateX(-0.20px) scaleX(0.858);transform-origin:100% 0;">N</div>
<div class="t" style="right:25px;top:345.00px;font-size:10.1px;transform:scaleX(0.858);transform-origin:100% 0;">N</div>
<div class="t" style="left:3px;top:354.00px;font-size:10.1px;transform:translateX(0.30px) scaleX(0.858);transform-origin:0 0;">Kans.</div>
<div class="t" style="right:544px;top:354.00px;font-size:10.1px;transform:scaleX(0.858);transform-origin:100% 0;">289</div>
<div class="t" style="right:489px;top:354.00px;font-size:10.1px;transform:translateX(-0.90px) scaleX(0.858);transform-origin:100% 0;">35<span class="o" style="font-size:9.35px;letter-spacing:-0.052px">1</span></div>
<div class="t" style="right:426px;top:354.00px;font-size:10.1px;transform:translateX(-0.90px) scaleX(0.858);transform-origin:100% 0;"><span class="o" style="font-size:9.35px;letter-spacing:-0.052px">1</span><span class="o" style="font-size:9.35px;letter-spacing:-0.052px">1</span>8</div>
<div class="t" style="right:365px;top:354.00px;font-size:10.1px;transform:translateX(-0.10px) scaleX(0.858);transform-origin:100% 0;">92</div>
<div class="t" style="right:309px;top:354.00px;font-size:10.1px;transform:translateX(-0.80px) scaleX(0.858);transform-origin:100% 0;">30</div>
<div class="t" style="right:250px;top:354.00px;font-size:10.1px;transform:scaleX(0.858);transform-origin:100% 0;">38</div>
<div class="t" style="right:192px;top:354.00px;font-size:10.1px;transform:translateX(-0.90px) scaleX(0.858);transform-origin:100% 0;"><span class="o" style="font-size:9.35px;letter-spacing:-0.052px">1</span>49</div>
<div class="t" style="right:132px;top:354.00px;font-size:10.1px;transform:scaleX(0.858);transform-origin:100% 0;"><span class="o" style="font-size:9.35px;letter-spacing:-0.052px">1</span>08</div>
<div class="t" style="right:81px;top:354.00px;font-size:10.1px;transform:translateX(-0.20px) scaleX(0.858);transform-origin:100% 0;">N</div>
<div class="t" style="right:25px;top:354.00px;font-size:10.1px;transform:scaleX(0.858);transform-origin:100% 0;">N</div>
<div class="t" style="left:3px;top:369.00px;font-size:10.1px;transform:translateX(0.30px) scaleX(0.858);transform-origin:0 0;">S. ATLANTIC</div>
<div class="t" style="right:544px;top:369.00px;font-size:10.1px;transform:scaleX(0.858);transform-origin:100% 0;"><span class="o" style="font-size:9.35px;letter-spacing:-0.052px">1</span>0,980</div>
<div class="t" style="right:489px;top:369.00px;font-size:10.1px;transform:translateX(-0.90px) scaleX(0.858);transform-origin:100% 0;"><span class="o" style="font-size:9.35px;letter-spacing:-0.052px">1</span><span class="o" style="font-size:9.35px;letter-spacing:-0.052px">1</span>,344</div>
<div class="t" style="right:426px;top:369.00px;font-size:10.1px;transform:translateX(-0.90px) scaleX(0.858);transform-origin:100% 0;">7,082</div>
<div class="t" style="right:365px;top:369.00px;font-size:10.1px;transform:translateX(-0.10px) scaleX(0.858);transform-origin:100% 0;">7,569</div>
<div class="t" style="right:309px;top:369.00px;font-size:10.1px;transform:translateX(-0.80px) scaleX(0.858);transform-origin:100% 0;">894</div>
<div class="t" style="right:250px;top:369.00px;font-size:10.1px;transform:scaleX(0.858);transform-origin:100% 0;">704</div>
<div class="t" style="right:192px;top:369.00px;font-size:10.1px;transform:translateX(-0.90px) scaleX(0.858);transform-origin:100% 0;"><span class="o" style="font-size:9.35px;letter-spacing:-0.052px">1</span>,026</div>
<div class="t" style="right:132px;top:369.00px;font-size:10.1px;transform:scaleX(0.858);transform-origin:100% 0;"><span class="o" style="font-size:9.35px;letter-spacing:-0.052px">1</span>,<span class="o" style="font-size:9.35px;letter-spacing:-0.052px">1</span>05</div>
<div class="t" style="right:81px;top:369.00px;font-size:10.1px;transform:translateX(-0.20px) scaleX(0.858);transform-origin:100% 0;"><span class="o" style="font-size:9.35px;letter-spacing:-0.052px">1</span>8</div>
<div class="t" style="right:25px;top:369.00px;font-size:10.1px;transform:scaleX(0.858);transform-origin:100% 0;">36</div>
<div class="t" style="left:3px;top:378.00px;font-size:10.1px;transform:translateX(0.30px) scaleX(0.858);transform-origin:0 0;">Del.</div>
<div class="t" style="right:544px;top:378.00px;font-size:10.1px;transform:scaleX(0.858);transform-origin:100% 0;">99</div>
<div class="t" style="right:489px;top:378.00px;font-size:10.1px;transform:translateX(-0.90px) scaleX(0.858);transform-origin:100% 0;"><span class="o" style="font-size:9.35px;letter-spacing:-0.052px">1</span>0<span class="o" style="font-size:9.35px;letter-spacing:-0.052px">1</span></div>
<div class="t" style="right:426px;top:378.00px;font-size:10.1px;transform:translateX(-0.90px) scaleX(0.858);transform-origin:100% 0;"><span class="o" style="font-size:9.35px;letter-spacing:-0.052px">1</span>57</div>
<div class="t" style="right:365px;top:378.00px;font-size:10.1px;transform:translateX(-0.10px) scaleX(0.858);transform-origin:100% 0;">402</div>
<div class="t" style="right:309px;top:378.00px;font-size:10.1px;transform:translateX(-0.80px) scaleX(0.858);transform-origin:100% 0;">7</div>
<div class="t" style="right:250px;top:378.00px;font-size:10.1px;transform:scaleX(0.858);transform-origin:100% 0;">2</div>
<div class="t" style="right:192px;top:378.00px;font-size:10.1px;transform:translateX(-0.90px) scaleX(0.858);transform-origin:100% 0;"><span class="o" style="font-size:9.35px;letter-spacing:-0.052px">1</span></div>
<div class="t" style="right:132px;top:378.00px;font-size:10.1px;transform:scaleX(0.858);transform-origin:100% 0;">3</div>
<div class="t" style="right:81px;top:378.00px;font-size:10.1px;transform:translateX(-0.20px) scaleX(0.858);transform-origin:100% 0;">N</div>
<div class="t" style="right:25px;top:378.00px;font-size:10.1px;transform:scaleX(0.858);transform-origin:100% 0;">N</div>
<div class="t" style="left:3px;top:388.00px;font-size:10.1px;transform:translateX(0.30px) scaleX(0.858);transform-origin:0 0;">Md.</div>
<div class="t" style="right:544px;top:388.00px;font-size:10.1px;transform:scaleX(0.858);transform-origin:100% 0;">848</div>
<div class="t" style="right:489px;top:388.00px;font-size:10.1px;transform:translateX(-0.90px) scaleX(0.858);transform-origin:100% 0;">925</div>
<div class="t" style="right:426px;top:388.00px;font-size:10.1px;transform:translateX(-0.90px) scaleX(0.858);transform-origin:100% 0;">58<span class="o" style="font-size:9.35px;letter-spacing:-0.052px">1</span></div>
<div class="t" style="right:365px;top:388.00px;font-size:10.1px;transform:translateX(-0.10px) scaleX(0.858);transform-origin:100% 0;"><span class="o" style="font-size:9.35px;letter-spacing:-0.052px">1</span>,2<span class="o" style="font-size:9.35px;letter-spacing:-0.052px">1</span>3</div>
<div class="t" style="right:309px;top:388.00px;font-size:10.1px;transform:translateX(-0.80px) scaleX(0.858);transform-origin:100% 0;">268</div>
<div class="t" style="right:250px;top:388.00px;font-size:10.1px;transform:scaleX(0.858);transform-origin:100% 0;"><span class="o" style="font-size:9.35px;letter-spacing:-0.052px">1</span>22</div>
<div class="t" style="right:192px;top:388.00px;font-size:10.1px;transform:translateX(-0.90px) scaleX(0.858);transform-origin:100% 0;">-</div>
<div class="t" style="right:132px;top:388.00px;font-size:10.1px;transform:scaleX(0.858);transform-origin:100% 0;">-</div>
<div class="t" style="right:81px;top:388.00px;font-size:10.1px;transform:translateX(-0.20px) scaleX(0.858);transform-origin:100% 0;">-</div>
<div class="t" style="right:25px;top:388.00px;font-size:10.1px;transform:scaleX(0.858);transform-origin:100% 0;">26</div>
<div class="t" style="left:3px;top:397.00px;font-size:10.1px;transform:translateX(0.30px) scaleX(0.858);transform-origin:0 0;">D.C.</div>
<div class="t" style="right:544px;top:397.00px;font-size:10.1px;transform:scaleX(0.858);transform-origin:100% 0;">5<span class="o" style="font-size:9.35px;letter-spacing:-0.052px">1</span></div>
<div class="t" style="right:489px;top:397.00px;font-size:10.1px;transform:translateX(-0.90px) scaleX(0.858);transform-origin:100% 0;">76</div>
<div class="t" style="right:426px;top:397.00px;font-size:10.1px;transform:translateX(-0.90px) scaleX(0.858);transform-origin:100% 0;">73</div>
<div class="t" style="right:365px;top:397.00px;font-size:10.1px;transform:translateX(-0.10px) scaleX(0.858);transform-origin:100% 0;">63</div>
<div class="t" style="right:309px;top:397.00px;font-size:10.1px;transform:translateX(-0.80px) scaleX(0.858);transform-origin:100% 0;"><span class="o" style="font-size:9.35px;letter-spacing:-0.052px">1</span>6</div>
<div class="t" style="right:250px;top:397.00px;font-size:10.1px;transform:scaleX(0.858);transform-origin:100% 0;">9</div>
<div class="t" style="right:192px;top:397.00px;font-size:10.1px;transform:translateX(-0.90px) scaleX(0.858);transform-origin:100% 0;">3</div>
<div class="t" style="right:132px;top:397.00px;font-size:10.1px;transform:scaleX(0.858);transform-origin:100% 0;">-</div>
<div class="t" style="right:81px;top:397.00px;font-size:10.1px;transform:translateX(-0.20px) scaleX(0.858);transform-origin:100% 0;">7</div>
<div class="t" style="right:25px;top:397.00px;font-size:10.1px;transform:scaleX(0.858);transform-origin:100% 0;">3</div>
<div class="t" style="left:3px;top:406.00px;font-size:10.1px;transform:translateX(0.30px) scaleX(0.858);transform-origin:0 0;">Va.</div>
<div class="t" style="right:544px;top:406.00px;font-size:10.1px;transform:scaleX(0.858);transform-origin:100% 0;"><span class="o" style="font-size:9.35px;letter-spacing:-0.052px">1</span>,068</div>
<div class="t" style="right:489px;top:406.00px;font-size:10.1px;transform:translateX(-0.90px) scaleX(0.858);transform-origin:100% 0;"><span class="o" style="font-size:9.35px;letter-spacing:-0.052px">1</span>,2<span class="o" style="font-size:9.35px;letter-spacing:-0.052px">1</span>4</div>
<div class="t" style="right:426px;top:406.00px;font-size:10.1px;transform:translateX(-0.90px) scaleX(0.858);transform-origin:100% 0;">426</div>
<div class="t" style="right:365px;top:406.00px;font-size:10.1px;transform:translateX(-0.10px) scaleX(0.858);transform-origin:100% 0;">996</div>
<div class="t" style="right:309px;top:406.00px;font-size:10.1px;transform:translateX(-0.80px) scaleX(0.858);transform-origin:100% 0;">97</div>
<div class="t" style="right:250px;top:406.00px;font-size:10.1px;transform:scaleX(0.858);transform-origin:100% 0;">73</div>
<div class="t" style="right:192px;top:406.00px;font-size:10.1px;transform:translateX(-0.90px) scaleX(0.858);transform-origin:100% 0;">N</div>
<div class="t" style="right:132px;top:406.00px;font-size:10.1px;transform:scaleX(0.858);transform-origin:100% 0;">N</div>
<div class="t" style="right:81px;top:406.00px;font-size:10.1px;transform:translateX(-0.20px) scaleX(0.858);transform-origin:100% 0;">N</div>
<div class="t" style="right:25px;top:406.00px;font-size:10.1px;transform:scaleX(0.858);transform-origin:100% 0;">N</div>
<div class="t" style="left:3px;top:416.00px;font-size:10.1px;transform:translateX(0.30px) scaleX(0.858);transform-origin:0 0;">W. Va.</div>
<div class="t" style="right:544px;top:416.00px;font-size:10.1px;transform:scaleX(0.858);transform-origin:100% 0;"><span class="o" style="font-size:9.35px;letter-spacing:-0.052px">1</span>24</div>
<div class="t" style="right:489px;top:416.00px;font-size:10.1px;transform:translateX(-0.90px) scaleX(0.858);transform-origin:100% 0;"><span class="o" style="font-size:9.35px;letter-spacing:-0.052px">1</span>52</div>
<div class="t" style="right:426px;top:416.00px;font-size:10.1px;transform:translateX(-0.90px) scaleX(0.858);transform-origin:100% 0;">-</div>
<div class="t" style="right:365px;top:416.00px;font-size:10.1px;transform:translateX(-0.10px) scaleX(0.858);transform-origin:100% 0;"><span class="o" style="font-size:9.35px;letter-spacing:-0.052px">1</span>2</div>
<div class="t" style="right:309px;top:416.00px;font-size:10.1px;transform:translateX(-0.80px) scaleX(0.858);transform-origin:100% 0;">36</div>
<div class="t" style="right:250px;top:416.00px;font-size:10.1px;transform:scaleX(0.858);transform-origin:100% 0;"><span class="o" style="font-size:9.35px;letter-spacing:-0.052px">1</span>9</div>
<div class="t" style="right:192px;top:416.00px;font-size:10.1px;transform:translateX(-0.90px) scaleX(0.858);transform-origin:100% 0;">80</div>
<div class="t" style="right:132px;top:416.00px;font-size:10.1px;transform:scaleX(0.858);transform-origin:100% 0;">46</div>
<div class="t" style="right:81px;top:416.00px;font-size:10.1px;transform:translateX(-0.20px) scaleX(0.858);transform-origin:100% 0;"><span class="o" style="font-size:9.35px;letter-spacing:-0.052px">1</span><span class="o" style="font-size:9.35px;letter-spacing:-0.052px">1</span></div>
<div class="t" style="right:25px;top:416.00px;font-size:10.1px;transform:scaleX(0.858);transform-origin:100% 0;">7</div>
<div class="t" style="left:3px;top:425.00px;font-size:10.1px;transform:translateX(0.30px) scaleX(0.858);transform-origin:0 0;">N.C.</div>
<div class="t" style="right:544px;top:425.00px;font-size:10.1px;transform:scaleX(0.858);transform-origin:100% 0;"><span class="o" style="font-size:9.35px;letter-spacing:-0.052px">1</span>,392</div>
<div class="t" style="right:489px;top:425.00px;font-size:10.1px;transform:translateX(-0.90px) scaleX(0.858);transform-origin:100% 0;"><span class="o" style="font-size:9.35px;letter-spacing:-0.052px">1</span>,574</div>
<div class="t" style="right:426px;top:425.00px;font-size:10.1px;transform:translateX(-0.90px) scaleX(0.858);transform-origin:100% 0;">985</div>
<div class="t" style="right:365px;top:425.00px;font-size:10.1px;transform:translateX(-0.10px) scaleX(0.858);transform-origin:100% 0;">550</div>
<div class="t" style="right:309px;top:425.00px;font-size:10.1px;transform:translateX(-0.80px) scaleX(0.858);transform-origin:100% 0;"><span class="o" style="font-size:9.35px;letter-spacing:-0.052px">1</span>03</div>
<div class="t" style="right:250px;top:425.00px;font-size:10.1px;transform:scaleX(0.858);transform-origin:100% 0;"><span class="o" style="font-size:9.35px;letter-spacing:-0.052px">1</span><span class="o" style="font-size:9.35px;letter-spacing:-0.052px">1</span>3</div>
<div class="t" style="right:192px;top:425.00px;font-size:10.1px;transform:translateX(-0.90px) scaleX(0.858);transform-origin:100% 0;">N</div>
<div class="t" style="right:132px;top:425.00px;font-size:10.1px;transform:scaleX(0.858);transform-origin:100% 0;">N</div>
<div class="t" style="right:81px;top:425.00px;font-size:10.1px;transform:translateX(-0.20px) scaleX(0.858);transform-origin:100% 0;">U</div>
<div class="t" style="right:25px;top:425.00px;font-size:10.1px;transform:scaleX(0.858);transform-origin:100% 0;">U</div>
<div class="t" style="left:3px;top:434.00px;font-size:10.1px;transform:translateX(0.30px) scaleX(0.858);transform-origin:0 0;">S.C.</div>
<div class="t" style="right:544px;top:434.00px;font-size:10.1px;transform:scaleX(0.858);transform-origin:100% 0;">8<span class="o" style="font-size:9.35px;letter-spacing:-0.052px">1</span>0</div>
<div class="t" style="right:489px;top:434.00px;font-size:10.1px;transform:translateX(-0.90px) scaleX(0.858);transform-origin:100% 0;">84<span class="o" style="font-size:9.35px;letter-spacing:-0.052px">1</span></div>
<div class="t" style="right:426px;top:434.00px;font-size:10.1px;transform:translateX(-0.90px) scaleX(0.858);transform-origin:100% 0;">509</div>
<div class="t" style="right:365px;top:434.00px;font-size:10.1px;transform:translateX(-0.10px) scaleX(0.858);transform-origin:100% 0;"><span class="o" style="font-size:9.35px;letter-spacing:-0.052px">1</span>34</div>
<div class="t" style="right:309px;top:434.00px;font-size:10.1px;transform:translateX(-0.80px) scaleX(0.858);transform-origin:100% 0;">37</div>
<div class="t" style="right:250px;top:434.00px;font-size:10.1px;transform:scaleX(0.858);transform-origin:100% 0;">38</div>
<div class="t" style="right:192px;top:434.00px;font-size:10.1px;transform:translateX(-0.90px) scaleX(0.858);transform-origin:100% 0;"><span class="o" style="font-size:9.35px;letter-spacing:-0.052px">1</span>4<span class="o" style="font-size:9.35px;letter-spacing:-0.052px">1</span></div>
<div class="t" style="right:132px;top:434.00px;font-size:10.1px;transform:scaleX(0.858);transform-origin:100% 0;"><span class="o" style="font-size:9.35px;letter-spacing:-0.052px">1</span>93</div>
<div class="t" style="right:81px;top:434.00px;font-size:10.1px;transform:translateX(-0.20px) scaleX(0.858);transform-origin:100% 0;">N</div>
<div class="t" style="right:25px;top:434.00px;font-size:10.1px;transform:scaleX(0.858);transform-origin:100% 0;">N</div>
<div class="t" style="left:3px;top:444.00px;font-size:10.1px;transform:translateX(0.30px) scaleX(0.858);transform-origin:0 0;">Ga.</div>
<div class="t" style="right:544px;top:444.00px;font-size:10.1px;transform:scaleX(0.858);transform-origin:100% 0;">2,<span class="o" style="font-size:9.35px;letter-spacing:-0.052px">1</span>76</div>
<div class="t" style="right:489px;top:444.00px;font-size:10.1px;transform:translateX(-0.90px) scaleX(0.858);transform-origin:100% 0;"><span class="o" style="font-size:9.35px;letter-spacing:-0.052px">1</span>,926</div>
<div class="t" style="right:426px;top:444.00px;font-size:10.1px;transform:translateX(-0.90px) scaleX(0.858);transform-origin:100% 0;"><span class="o" style="font-size:9.35px;letter-spacing:-0.052px">1</span>,593</div>
<div class="t" style="right:365px;top:444.00px;font-size:10.1px;transform:translateX(-0.10px) scaleX(0.858);transform-origin:100% 0;"><span class="o" style="font-size:9.35px;letter-spacing:-0.052px">1</span>,782</div>
<div class="t" style="right:309px;top:444.00px;font-size:10.1px;transform:translateX(-0.80px) scaleX(0.858);transform-origin:100% 0;"><span class="o" style="font-size:9.35px;letter-spacing:-0.052px">1</span>20</div>
<div class="t" style="right:250px;top:444.00px;font-size:10.1px;transform:scaleX(0.858);transform-origin:100% 0;"><span class="o" style="font-size:9.35px;letter-spacing:-0.052px">1</span>28</div>
<div class="t" style="right:192px;top:444.00px;font-size:10.1px;transform:translateX(-0.90px) scaleX(0.858);transform-origin:100% 0;">238</div>
<div class="t" style="right:132px;top:444.00px;font-size:10.1px;transform:scaleX(0.858);transform-origin:100% 0;">274</div>
<div class="t" style="right:81px;top:444.00px;font-size:10.1px;transform:translateX(-0.20px) scaleX(0.858);transform-origin:100% 0;">N</div>
<div class="t" style="right:25px;top:444.00px;font-size:10.1px;transform:scaleX(0.858);transform-origin:100% 0;">N</div>
<div class="t" style="left:3px;top:453.00px;font-size:10.1px;transform:translateX(0.30px) scaleX(0.858);transform-origin:0 0;">Fla.</div>
<div class="t" style="right:544px;top:453.00px;font-size:10.1px;transform:scaleX(0.858);transform-origin:100% 0;">4,4<span class="o" style="font-size:9.35px;letter-spacing:-0.052px">1</span>2</div>
<div class="t" style="right:489px;top:453.00px;font-size:10.1px;transform:translateX(-0.90px) scaleX(0.858);transform-origin:100% 0;">4,535</div>
<div class="t" style="right:426px;top:453.00px;font-size:10.1px;transform:translateX(-0.90px) scaleX(0.858);transform-origin:100% 0;">2,758</div>
<div class="t" style="right:365px;top:453.00px;font-size:10.1px;transform:translateX(-0.10px) scaleX(0.858);transform-origin:100% 0;">2,4<span class="o" style="font-size:9.35px;letter-spacing:-0.052px">1</span>7</div>
<div class="t" style="right:309px;top:453.00px;font-size:10.1px;transform:translateX(-0.80px) scaleX(0.858);transform-origin:100% 0;">2<span class="o" style="font-size:9.35px;letter-spacing:-0.052px">1</span>0</div>
<div class="t" style="right:250px;top:453.00px;font-size:10.1px;transform:scaleX(0.858);transform-origin:100% 0;">200</div>
<div class="t" style="right:192px;top:453.00px;font-size:10.1px;transform:translateX(-0.90px) scaleX(0.858);transform-origin:100% 0;">563</div>
<div class="t" style="right:132px;top:453.00px;font-size:10.1px;transform:scaleX(0.858);transform-origin:100% 0;">589</div>
<div class="t" style="right:81px;top:453.00px;font-size:10.1px;transform:translateX(-0.20px) scaleX(0.858);transform-origin:100% 0;">N</div>
<div class="t" style="right:25px;top:453.00px;font-size:10.1px;transform:scaleX(0.858);transform-origin:100% 0;">N</div>
<div class="t" style="left:3px;top:468.00px;font-size:10.1px;transform:translateX(0.30px) scaleX(0.858);transform-origin:0 0;">E.S. CENTRAL</div>
<div class="t" style="right:544px;top:468.00px;font-size:10.1px;transform:scaleX(0.858);transform-origin:100% 0;">2,654</div>
<div class="t" style="right:489px;top:468.00px;font-size:10.1px;transform:translateX(-0.90px) scaleX(0.858);transform-origin:100% 0;">3,272</div>
<div class="t" style="right:426px;top:468.00px;font-size:10.1px;transform:translateX(-0.90px) scaleX(0.858);transform-origin:100% 0;">935</div>
<div class="t" style="right:365px;top:468.00px;font-size:10.1px;transform:translateX(-0.10px) scaleX(0.858);transform-origin:100% 0;"><span class="o" style="font-size:9.35px;letter-spacing:-0.052px">1</span>,535</div>
<div class="t" style="right:309px;top:468.00px;font-size:10.1px;transform:translateX(-0.80px) scaleX(0.858);transform-origin:100% 0;">206</div>
<div class="t" style="right:250px;top:468.00px;font-size:10.1px;transform:scaleX(0.858);transform-origin:100% 0;"><span class="o" style="font-size:9.35px;letter-spacing:-0.052px">1</span><span class="o" style="font-size:9.35px;letter-spacing:-0.052px">1</span>4</div>
<div class="t" style="right:192px;top:468.00px;font-size:10.1px;transform:translateX(-0.90px) scaleX(0.858);transform-origin:100% 0;"><span class="o" style="font-size:9.35px;letter-spacing:-0.052px">1</span>43</div>
<div class="t" style="right:132px;top:468.00px;font-size:10.1px;transform:scaleX(0.858);transform-origin:100% 0;"><span class="o" style="font-size:9.35px;letter-spacing:-0.052px">1</span>34</div>
<div class="t" style="right:81px;top:468.00px;font-size:10.1px;transform:translateX(-0.20px) scaleX(0.858);transform-origin:100% 0;">-</div>
<div class="t" style="right:25px;top:468.00px;font-size:10.1px;transform:scaleX(0.858);transform-origin:100% 0;">-</div>
<div class="t" style="left:3px;top:477.00px;font-size:10.1px;transform:translateX(0.30px) scaleX(0.858);transform-origin:0 0;">Ky.</div>
<div class="t" style="right:544px;top:477.00px;font-size:10.1px;transform:scaleX(0.858);transform-origin:100% 0;">396</div>
<div class="t" style="right:489px;top:477.00px;font-size:10.1px;transform:translateX(-0.90px) scaleX(0.858);transform-origin:100% 0;">395</div>
<div class="t" style="right:426px;top:477.00px;font-size:10.1px;transform:translateX(-0.90px) scaleX(0.858);transform-origin:100% 0;"><span class="o" style="font-size:9.35px;letter-spacing:-0.052px">1</span>28</div>
<div class="t" style="right:365px;top:477.00px;font-size:10.1px;transform:translateX(-0.10px) scaleX(0.858);transform-origin:100% 0;">200</div>
<div class="t" style="right:309px;top:477.00px;font-size:10.1px;transform:translateX(-0.80px) scaleX(0.858);transform-origin:100% 0;">45</div>
<div class="t" style="right:250px;top:477.00px;font-size:10.1px;transform:scaleX(0.858);transform-origin:100% 0;">22</div>
<div class="t" style="right:192px;top:477.00px;font-size:10.1px;transform:translateX(-0.90px) scaleX(0.858);transform-origin:100% 0;">20</div>
<div class="t" style="right:132px;top:477.00px;font-size:10.1px;transform:scaleX(0.858);transform-origin:100% 0;"><span class="o" style="font-size:9.35px;letter-spacing:-0.052px">1</span>8</div>
<div class="t" style="right:81px;top:477.00px;font-size:10.1px;transform:translateX(-0.20px) scaleX(0.858);transform-origin:100% 0;">N</div>
<div class="t" style="right:25px;top:477.00px;font-size:10.1px;transform:scaleX(0.858);transform-origin:100% 0;">N</div>
<div class="t" style="left:3px;top:486.00px;font-size:10.1px;transform:translateX(0.30px) scaleX(0.858);transform-origin:0 0;">Tenn.</div>
<div class="t" style="right:544px;top:486.00px;font-size:10.1px;transform:scaleX(0.858);transform-origin:100% 0;">74<span class="o" style="font-size:9.35px;letter-spacing:-0.052px">1</span></div>
<div class="t" style="right:489px;top:486.00px;font-size:10.1px;transform:translateX(-0.90px) scaleX(0.858);transform-origin:100% 0;">857</div>
<div class="t" style="right:426px;top:486.00px;font-size:10.1px;transform:translateX(-0.90px) scaleX(0.858);transform-origin:100% 0;">39<span class="o" style="font-size:9.35px;letter-spacing:-0.052px">1</span></div>
<div class="t" style="right:365px;top:486.00px;font-size:10.1px;transform:translateX(-0.10px) scaleX(0.858);transform-origin:100% 0;"><span class="o" style="font-size:9.35px;letter-spacing:-0.052px">1</span>68</div>
<div class="t" style="right:309px;top:486.00px;font-size:10.1px;transform:translateX(-0.80px) scaleX(0.858);transform-origin:100% 0;"><span class="o" style="font-size:9.35px;letter-spacing:-0.052px">1</span>6<span class="o" style="font-size:9.35px;letter-spacing:-0.052px">1</span></div>
<div class="t" style="right:250px;top:486.00px;font-size:10.1px;transform:scaleX(0.858);transform-origin:100% 0;">92</div>
<div class="t" style="right:192px;top:486.00px;font-size:10.1px;transform:translateX(-0.90px) scaleX(0.858);transform-origin:100% 0;"><span class="o" style="font-size:9.35px;letter-spacing:-0.052px">1</span>23</div>
<div class="t" style="right:132px;top:486.00px;font-size:10.1px;transform:scaleX(0.858);transform-origin:100% 0;"><span class="o" style="font-size:9.35px;letter-spacing:-0.052px">1</span><span class="o" style="font-size:9.35px;letter-spacing:-0.052px">1</span>6</div>
<div class="t" style="right:81px;top:486.00px;font-size:10.1px;transform:translateX(-0.20px) scaleX(0.858);transform-origin:100% 0;">N</div>
<div class="t" style="right:25px;top:486.00px;font-size:10.1px;transform:scaleX(0.858);transform-origin:100% 0;">N</div>
<div class="t" style="left:3px;top:496.00px;font-size:10.1px;transform:translateX(0.30px) scaleX(0.858);transform-origin:0 0;">Ala.</div>
<div class="t" style="right:544px;top:496.00px;font-size:10.1px;transform:scaleX(0.858);transform-origin:100% 0;">53<span class="o" style="font-size:9.35px;letter-spacing:-0.052px">1</span></div>
<div class="t" style="right:489px;top:496.00px;font-size:10.1px;transform:translateX(-0.90px) scaleX(0.858);transform-origin:100% 0;">859</div>
<div class="t" style="right:426px;top:496.00px;font-size:10.1px;transform:translateX(-0.90px) scaleX(0.858);transform-origin:100% 0;">249</div>
<div class="t" style="right:365px;top:496.00px;font-size:10.1px;transform:translateX(-0.10px) scaleX(0.858);transform-origin:100% 0;">823</div>
<div class="t" style="right:309px;top:496.00px;font-size:10.1px;transform:translateX(-0.80px) scaleX(0.858);transform-origin:100% 0;">-</div>
<div class="t" style="right:250px;top:496.00px;font-size:10.1px;transform:scaleX(0.858);transform-origin:100% 0;">-</div>
<div class="t" style="right:192px;top:496.00px;font-size:10.1px;transform:translateX(-0.90px) scaleX(0.858);transform-origin:100% 0;">-</div>
<div class="t" style="right:132px;top:496.00px;font-size:10.1px;transform:scaleX(0.858);transform-origin:100% 0;">-</div>
<div class="t" style="right:81px;top:496.00px;font-size:10.1px;transform:translateX(-0.20px) scaleX(0.858);transform-origin:100% 0;">N</div>
<div class="t" style="right:25px;top:496.00px;font-size:10.1px;transform:scaleX(0.858);transform-origin:100% 0;">N</div>
<div class="t" style="left:3px;top:505.00px;font-size:10.1px;transform:translateX(0.30px) scaleX(0.858);transform-origin:0 0;">Miss.</div>
<div class="t" style="right:544px;top:505.00px;font-size:10.1px;transform:scaleX(0.858);transform-origin:100% 0;">986</div>
<div class="t" style="right:489px;top:505.00px;font-size:10.1px;transform:translateX(-0.90px) scaleX(0.858);transform-origin:100% 0;"><span class="o" style="font-size:9.35px;letter-spacing:-0.052px">1</span>,<span class="o" style="font-size:9.35px;letter-spacing:-0.052px">1</span>6<span class="o" style="font-size:9.35px;letter-spacing:-0.052px">1</span></div>
<div class="t" style="right:426px;top:505.00px;font-size:10.1px;transform:translateX(-0.90px) scaleX(0.858);transform-origin:100% 0;"><span class="o" style="font-size:9.35px;letter-spacing:-0.052px">1</span>67</div>
<div class="t" style="right:365px;top:505.00px;font-size:10.1px;transform:translateX(-0.10px) scaleX(0.858);transform-origin:100% 0;">344</div>
<div class="t" style="right:309px;top:505.00px;font-size:10.1px;transform:translateX(-0.80px) scaleX(0.858);transform-origin:100% 0;">-</div>
<div class="t" style="right:250px;top:505.00px;font-size:10.1px;transform:scaleX(0.858);transform-origin:100% 0;">-</div>
<div class="t" style="right:192px;top:505.00px;font-size:10.1px;transform:translateX(-0.90px) scaleX(0.858);transform-origin:100% 0;">-</div>
<div class="t" style="right:132px;top:505.00px;font-size:10.1px;transform:scaleX(0.858);transform-origin:100% 0;">-</div>
<div class="t" style="right:81px;top:505.00px;font-size:10.1px;transform:translateX(-0.20px) scaleX(0.858);transform-origin:100% 0;">-</div>
<div class="t" style="right:25px;top:505.00px;font-size:10.1px;transform:scaleX(0.858);transform-origin:100% 0;">-</div>
<div class="t" style="left:3px;top:519.00px;font-size:10.1px;transform:translateX(0.30px) scaleX(0.858);transform-origin:0 0;">W.S. CENTRAL</div>
<div class="t" style="right:544px;top:519.00px;font-size:10.1px;transform:scaleX(0.858);transform-origin:100% 0;">4,7<span class="o" style="font-size:9.35px;letter-spacing:-0.052px">1</span>2</div>
<div class="t" style="right:489px;top:519.00px;font-size:10.1px;transform:translateX(-0.90px) scaleX(0.858);transform-origin:100% 0;">4,6<span class="o" style="font-size:9.35px;letter-spacing:-0.052px">1</span>8</div>
<div class="t" style="right:426px;top:519.00px;font-size:10.1px;transform:translateX(-0.90px) scaleX(0.858);transform-origin:100% 0;">4,475</div>
<div class="t" style="right:365px;top:519.00px;font-size:10.1px;transform:translateX(-0.10px) scaleX(0.858);transform-origin:100% 0;">3,274</div>
<div class="t" style="right:309px;top:519.00px;font-size:10.1px;transform:translateX(-0.80px) scaleX(0.858);transform-origin:100% 0;">340</div>
<div class="t" style="right:250px;top:519.00px;font-size:10.1px;transform:scaleX(0.858);transform-origin:100% 0;">293</div>
<div class="t" style="right:192px;top:519.00px;font-size:10.1px;transform:translateX(-0.90px) scaleX(0.858);transform-origin:100% 0;">60</div>
<div class="t" style="right:132px;top:519.00px;font-size:10.1px;transform:scaleX(0.858);transform-origin:100% 0;"><span class="o" style="font-size:9.35px;letter-spacing:-0.052px">1</span>9<span class="o" style="font-size:9.35px;letter-spacing:-0.052px">1</span></div>
<div class="t" style="right:81px;top:519.00px;font-size:10.1px;transform:translateX(-0.20px) scaleX(0.858);transform-origin:100% 0;">79</div>
<div class="t" style="right:25px;top:519.00px;font-size:10.1px;transform:scaleX(0.858);transform-origin:100% 0;">30</div>
<div class="t" style="left:3px;top:529.00px;font-size:10.1px;transform:translateX(0.30px) scaleX(0.858);transform-origin:0 0;">Ark.</div>
<div class="t" style="right:544px;top:529.00px;font-size:10.1px;transform:scaleX(0.858);transform-origin:100% 0;">782</div>
<div class="t" style="right:489px;top:529.00px;font-size:10.1px;transform:translateX(-0.90px) scaleX(0.858);transform-origin:100% 0;"><span class="o" style="font-size:9.35px;letter-spacing:-0.052px">1</span>,050</div>
<div class="t" style="right:426px;top:529.00px;font-size:10.1px;transform:translateX(-0.90px) scaleX(0.858);transform-origin:100% 0;">98</div>
<div class="t" style="right:365px;top:529.00px;font-size:10.1px;transform:translateX(-0.10px) scaleX(0.858);transform-origin:100% 0;"><span class="o" style="font-size:9.35px;letter-spacing:-0.052px">1</span>96</div>
<div class="t" style="right:309px;top:529.00px;font-size:10.1px;transform:translateX(-0.80px) scaleX(0.858);transform-origin:100% 0;">5</div>
<div class="t" style="right:250px;top:529.00px;font-size:10.1px;transform:scaleX(0.858);transform-origin:100% 0;">8</div>
<div class="t" style="right:192px;top:529.00px;font-size:10.1px;transform:translateX(-0.90px) scaleX(0.858);transform-origin:100% 0;">8</div>
<div class="t" style="right:132px;top:529.00px;font-size:10.1px;transform:scaleX(0.858);transform-origin:100% 0;"><span class="o" style="font-size:9.35px;letter-spacing:-0.052px">1</span>2</div>
<div class="t" style="right:81px;top:529.00px;font-size:10.1px;transform:translateX(-0.20px) scaleX(0.858);transform-origin:100% 0;">-</div>
<div class="t" style="right:25px;top:529.00px;font-size:10.1px;transform:scaleX(0.858);transform-origin:100% 0;">-</div>
<div class="t" style="left:3px;top:538.00px;font-size:10.1px;transform:translateX(0.30px) scaleX(0.858);transform-origin:0 0;">La.</div>
<div class="t" style="right:544px;top:538.00px;font-size:10.1px;transform:scaleX(0.858);transform-origin:100% 0;">538</div>
<div class="t" style="right:489px;top:538.00px;font-size:10.1px;transform:translateX(-0.90px) scaleX(0.858);transform-origin:100% 0;">785</div>
<div class="t" style="right:426px;top:538.00px;font-size:10.1px;transform:translateX(-0.90px) scaleX(0.858);transform-origin:100% 0;">303</div>
<div class="t" style="right:365px;top:538.00px;font-size:10.1px;transform:translateX(-0.10px) scaleX(0.858);transform-origin:100% 0;">499</div>
<div class="t" style="right:309px;top:538.00px;font-size:10.1px;transform:translateX(-0.80px) scaleX(0.858);transform-origin:100% 0;"><span class="o" style="font-size:9.35px;letter-spacing:-0.052px">1</span></div>
<div class="t" style="right:250px;top:538.00px;font-size:10.1px;transform:scaleX(0.858);transform-origin:100% 0;"><span class="o" style="font-size:9.35px;letter-spacing:-0.052px">1</span></div>
<div class="t" style="right:192px;top:538.00px;font-size:10.1px;transform:translateX(-0.90px) scaleX(0.858);transform-origin:100% 0;">52</div>
<div class="t" style="right:132px;top:538.00px;font-size:10.1px;transform:scaleX(0.858);transform-origin:100% 0;"><span class="o" style="font-size:9.35px;letter-spacing:-0.052px">1</span>79</div>
<div class="t" style="right:81px;top:538.00px;font-size:10.1px;transform:translateX(-0.20px) scaleX(0.858);transform-origin:100% 0;"><span class="o" style="font-size:9.35px;letter-spacing:-0.052px">1</span><span class="o" style="font-size:9.35px;letter-spacing:-0.052px">1</span></div>
<div class="t" style="right:25px;top:538.00px;font-size:10.1px;transform:scaleX(0.858);transform-origin:100% 0;"><span class="o" style="font-size:9.35px;letter-spacing:-0.052px">1</span>0</div>
<div class="t" style="left:3px;top:548.00px;font-size:10.1px;transform:translateX(0.30px) scaleX(0.858);transform-origin:0 0;">Okla.</div>
<div class="t" style="right:544px;top:548.00px;font-size:10.1px;transform:scaleX(0.858);transform-origin:100% 0;">465</div>
<div class="t" style="right:489px;top:548.00px;font-size:10.1px;transform:translateX(-0.90px) scaleX(0.858);transform-origin:100% 0;">5<span class="o" style="font-size:9.35px;letter-spacing:-0.052px">1</span>0</div>
<div class="t" style="right:426px;top:548.00px;font-size:10.1px;transform:translateX(-0.90px) scaleX(0.858);transform-origin:100% 0;">834</div>
<div class="t" style="right:365px;top:548.00px;font-size:10.1px;transform:translateX(-0.10px) scaleX(0.858);transform-origin:100% 0;">587</div>
<div class="t" style="right:309px;top:548.00px;font-size:10.1px;transform:translateX(-0.80px) scaleX(0.858);transform-origin:100% 0;">90</div>
<div class="t" style="right:250px;top:548.00px;font-size:10.1px;transform:scaleX(0.858);transform-origin:100% 0;">48</div>
<div class="t" style="right:192px;top:548.00px;font-size:10.1px;transform:translateX(-0.90px) scaleX(0.858);transform-origin:100% 0;">N</div>
<div class="t" style="right:132px;top:548.00px;font-size:10.1px;transform:scaleX(0.858);transform-origin:100% 0;">N</div>
<div class="t" style="right:81px;top:548.00px;font-size:10.1px;transform:translateX(-0.20px) scaleX(0.858);transform-origin:100% 0;">45</div>
<div class="t" style="right:25px;top:548.00px;font-size:10.1px;transform:scaleX(0.858);transform-origin:100% 0;">8</div>
<div class="t" style="left:3px;top:557.00px;font-size:10.1px;transform:translateX(0.30px) scaleX(0.858);transform-origin:0 0;">Tex.</div>
<div class="t" style="right:544px;top:557.00px;font-size:10.1px;transform:scaleX(0.858);transform-origin:100% 0;">2,927</div>
<div class="t" style="right:489px;top:557.00px;font-size:10.1px;transform:translateX(-0.90px) scaleX(0.858);transform-origin:100% 0;">2,273</div>
<div class="t" style="right:426px;top:557.00px;font-size:10.1px;transform:translateX(-0.90px) scaleX(0.858);transform-origin:100% 0;">3,240</div>
<div class="t" style="right:365px;top:557.00px;font-size:10.1px;transform:translateX(-0.10px) scaleX(0.858);transform-origin:100% 0;"><span class="o" style="font-size:9.35px;letter-spacing:-0.052px">1</span>,992</div>
<div class="t" style="right:309px;top:557.00px;font-size:10.1px;transform:translateX(-0.80px) scaleX(0.858);transform-origin:100% 0;">244</div>
<div class="t" style="right:250px;top:557.00px;font-size:10.1px;transform:scaleX(0.858);transform-origin:100% 0;">236</div>
<div class="t" style="right:192px;top:557.00px;font-size:10.1px;transform:translateX(-0.90px) scaleX(0.858);transform-origin:100% 0;">N</div>
<div class="t" style="right:132px;top:557.00px;font-size:10.1px;transform:scaleX(0.858);transform-origin:100% 0;">N</div>
<div class="t" style="right:81px;top:557.00px;font-size:10.1px;transform:translateX(-0.20px) scaleX(0.858);transform-origin:100% 0;">23</div>
<div class="t" style="right:25px;top:557.00px;font-size:10.1px;transform:scaleX(0.858);transform-origin:100% 0;"><span class="o" style="font-size:9.35px;letter-spacing:-0.052px">1</span>2</div>
<div class="t" style="left:3px;top:571.00px;font-size:10.1px;transform:translateX(0.30px) scaleX(0.858);transform-origin:0 0;">MOUNTAIN</div>
<div class="t" style="right:544px;top:571.00px;font-size:10.1px;transform:scaleX(0.858);transform-origin:100% 0;">2,224</div>
<div class="t" style="right:489px;top:571.00px;font-size:10.1px;transform:translateX(-0.90px) scaleX(0.858);transform-origin:100% 0;">2,329</div>
<div class="t" style="right:426px;top:571.00px;font-size:10.1px;transform:translateX(-0.90px) scaleX(0.858);transform-origin:100% 0;"><span class="o" style="font-size:9.35px;letter-spacing:-0.052px">1</span>,226</div>
<div class="t" style="right:365px;top:571.00px;font-size:10.1px;transform:translateX(-0.10px) scaleX(0.858);transform-origin:100% 0;"><span class="o" style="font-size:9.35px;letter-spacing:-0.052px">1</span>,067</div>
<div class="t" style="right:309px;top:571.00px;font-size:10.1px;transform:translateX(-0.80px) scaleX(0.858);transform-origin:100% 0;">439</div>
<div class="t" style="right:250px;top:571.00px;font-size:10.1px;transform:scaleX(0.858);transform-origin:100% 0;">560</div>
<div class="t" style="right:192px;top:571.00px;font-size:10.1px;transform:translateX(-0.90px) scaleX(0.858);transform-origin:100% 0;">29</div>
<div class="t" style="right:132px;top:571.00px;font-size:10.1px;transform:scaleX(0.858);transform-origin:100% 0;">50</div>
<div class="t" style="right:81px;top:571.00px;font-size:10.1px;transform:translateX(-0.20px) scaleX(0.858);transform-origin:100% 0;">6</div>
<div class="t" style="right:25px;top:571.00px;font-size:10.1px;transform:scaleX(0.858);transform-origin:100% 0;">5</div>
<div class="t" style="left:3px;top:581.00px;font-size:10.1px;transform:translateX(0.30px) scaleX(0.858);transform-origin:0 0;">Mont.</div>
<div class="t" style="right:544px;top:581.00px;font-size:10.1px;transform:scaleX(0.858);transform-origin:100% 0;"><span class="o" style="font-size:9.35px;letter-spacing:-0.052px">1</span><span class="o" style="font-size:9.35px;letter-spacing:-0.052px">1</span><span class="o" style="font-size:9.35px;letter-spacing:-0.052px">1</span></div>
<div class="t" style="right:489px;top:581.00px;font-size:10.1px;transform:translateX(-0.90px) scaleX(0.858);transform-origin:100% 0;">89</div>
<div class="t" style="right:426px;top:581.00px;font-size:10.1px;transform:translateX(-0.90px) scaleX(0.858);transform-origin:100% 0;">2</div>
<div class="t" style="right:365px;top:581.00px;font-size:10.1px;transform:translateX(-0.10px) scaleX(0.858);transform-origin:100% 0;">4</div>
<div class="t" style="right:309px;top:581.00px;font-size:10.1px;transform:translateX(-0.80px) scaleX(0.858);transform-origin:100% 0;">2</div>
<div class="t" style="right:250px;top:581.00px;font-size:10.1px;transform:scaleX(0.858);transform-origin:100% 0;">-</div>
<div class="t" style="right:192px;top:581.00px;font-size:10.1px;transform:translateX(-0.90px) scaleX(0.858);transform-origin:100% 0;">-</div>
<div class="t" style="right:132px;top:581.00px;font-size:10.1px;transform:scaleX(0.858);transform-origin:100% 0;">-</div>
<div class="t" style="right:81px;top:581.00px;font-size:10.1px;transform:translateX(-0.20px) scaleX(0.858);transform-origin:100% 0;">-</div>
<div class="t" style="right:25px;top:581.00px;font-size:10.1px;transform:scaleX(0.858);transform-origin:100% 0;">-</div>
<div class="t" style="left:3px;top:590.00px;font-size:10.1px;transform:translateX(0.30px) scaleX(0.858);transform-origin:0 0;">Idaho</div>
<div class="t" style="right:544px;top:590.00px;font-size:10.1px;transform:scaleX(0.858);transform-origin:100% 0;"><span class="o" style="font-size:9.35px;letter-spacing:-0.052px">1</span>72</div>
<div class="t" style="right:489px;top:590.00px;font-size:10.1px;transform:translateX(-0.90px) scaleX(0.858);transform-origin:100% 0;"><span class="o" style="font-size:9.35px;letter-spacing:-0.052px">1</span>69</div>
<div class="t" style="right:426px;top:590.00px;font-size:10.1px;transform:translateX(-0.90px) scaleX(0.858);transform-origin:100% 0;">35</div>
<div class="t" style="right:365px;top:590.00px;font-size:10.1px;transform:translateX(-0.10px) scaleX(0.858);transform-origin:100% 0;"><span class="o" style="font-size:9.35px;letter-spacing:-0.052px">1</span>7</div>
<div class="t" style="right:309px;top:590.00px;font-size:10.1px;transform:translateX(-0.80px) scaleX(0.858);transform-origin:100% 0;"><span class="o" style="font-size:9.35px;letter-spacing:-0.052px">1</span>9</div>
<div class="t" style="right:250px;top:590.00px;font-size:10.1px;transform:scaleX(0.858);transform-origin:100% 0;"><span class="o" style="font-size:9.35px;letter-spacing:-0.052px">1</span><span class="o" style="font-size:9.35px;letter-spacing:-0.052px">1</span></div>
<div class="t" style="right:192px;top:590.00px;font-size:10.1px;transform:translateX(-0.90px) scaleX(0.858);transform-origin:100% 0;">N</div>
<div class="t" style="right:132px;top:590.00px;font-size:10.1px;transform:scaleX(0.858);transform-origin:100% 0;">N</div>
<div class="t" style="right:81px;top:590.00px;font-size:10.1px;transform:translateX(-0.20px) scaleX(0.858);transform-origin:100% 0;">N</div>
<div class="t" style="right:25px;top:590.00px;font-size:10.1px;transform:scaleX(0.858);transform-origin:100% 0;">N</div>
<div class="t" style="left:3px;top:599.00px;font-size:10.1px;transform:translateX(0.30px) scaleX(0.858);transform-origin:0 0;">Wyo.</div>
<div class="t" style="right:544px;top:599.00px;font-size:10.1px;transform:scaleX(0.858);transform-origin:100% 0;">77</div>
<div class="t" style="right:489px;top:599.00px;font-size:10.1px;transform:translateX(-0.90px) scaleX(0.858);transform-origin:100% 0;"><span class="o" style="font-size:9.35px;letter-spacing:-0.052px">1</span>06</div>
<div class="t" style="right:426px;top:599.00px;font-size:10.1px;transform:translateX(-0.90px) scaleX(0.858);transform-origin:100% 0;">8</div>
<div class="t" style="right:365px;top:599.00px;font-size:10.1px;transform:translateX(-0.10px) scaleX(0.858);transform-origin:100% 0;">8</div>
<div class="t" style="right:309px;top:599.00px;font-size:10.1px;transform:translateX(-0.80px) scaleX(0.858);transform-origin:100% 0;">2</div>
<div class="t" style="right:250px;top:599.00px;font-size:10.1px;transform:scaleX(0.858);transform-origin:100% 0;">7</div>
<div class="t" style="right:192px;top:599.00px;font-size:10.1px;transform:translateX(-0.90px) scaleX(0.858);transform-origin:100% 0;"><span class="o" style="font-size:9.35px;letter-spacing:-0.052px">1</span>0</div>
<div class="t" style="right:132px;top:599.00px;font-size:10.1px;transform:scaleX(0.858);transform-origin:100% 0;"><span class="o" style="font-size:9.35px;letter-spacing:-0.052px">1</span>4</div>
<div class="t" style="right:81px;top:599.00px;font-size:10.1px;transform:translateX(-0.20px) scaleX(0.858);transform-origin:100% 0;">-</div>
<div class="t" style="right:25px;top:599.00px;font-size:10.1px;transform:scaleX(0.858);transform-origin:100% 0;">-</div>
<div class="t" style="left:3px;top:609.00px;font-size:10.1px;transform:translateX(0.30px) scaleX(0.858);transform-origin:0 0;">Colo.</div>
<div class="t" style="right:544px;top:609.00px;font-size:10.1px;transform:scaleX(0.858);transform-origin:100% 0;">443</div>
<div class="t" style="right:489px;top:609.00px;font-size:10.1px;transform:translateX(-0.90px) scaleX(0.858);transform-origin:100% 0;">593</div>
<div class="t" style="right:426px;top:609.00px;font-size:10.1px;transform:translateX(-0.90px) scaleX(0.858);transform-origin:100% 0;">277</div>
<div class="t" style="right:365px;top:609.00px;font-size:10.1px;transform:translateX(-0.10px) scaleX(0.858);transform-origin:100% 0;">2<span class="o" style="font-size:9.35px;letter-spacing:-0.052px">1</span>0</div>
<div class="t" style="right:309px;top:609.00px;font-size:10.1px;transform:translateX(-0.80px) scaleX(0.858);transform-origin:100% 0;"><span class="o" style="font-size:9.35px;letter-spacing:-0.052px">1</span>26</div>
<div class="t" style="right:250px;top:609.00px;font-size:10.1px;transform:scaleX(0.858);transform-origin:100% 0;"><span class="o" style="font-size:9.35px;letter-spacing:-0.052px">1</span>22</div>
<div class="t" style="right:192px;top:609.00px;font-size:10.1px;transform:translateX(-0.90px) scaleX(0.858);transform-origin:100% 0;">-</div>
<div class="t" style="right:132px;top:609.00px;font-size:10.1px;transform:scaleX(0.858);transform-origin:100% 0;">-</div>
<div class="t" style="right:81px;top:609.00px;font-size:10.1px;transform:translateX(-0.20px) scaleX(0.858);transform-origin:100% 0;">-</div>
<div class="t" style="right:25px;top:609.00px;font-size:10.1px;transform:scaleX(0.858);transform-origin:100% 0;">-</div>
<div class="t" style="left:3px;top:618.00px;font-size:10.1px;transform:translateX(0.30px) scaleX(0.858);transform-origin:0 0;">N. Mex.</div>
<div class="t" style="right:544px;top:618.00px;font-size:10.1px;transform:scaleX(0.858);transform-origin:100% 0;">270</div>
<div class="t" style="right:489px;top:618.00px;font-size:10.1px;transform:translateX(-0.90px) scaleX(0.858);transform-origin:100% 0;">327</div>
<div class="t" style="right:426px;top:618.00px;font-size:10.1px;transform:translateX(-0.90px) scaleX(0.858);transform-origin:100% 0;">250</div>
<div class="t" style="right:365px;top:618.00px;font-size:10.1px;transform:translateX(-0.10px) scaleX(0.858);transform-origin:100% 0;">243</div>
<div class="t" style="right:309px;top:618.00px;font-size:10.1px;transform:translateX(-0.80px) scaleX(0.858);transform-origin:100% 0;"><span class="o" style="font-size:9.35px;letter-spacing:-0.052px">1</span><span class="o" style="font-size:9.35px;letter-spacing:-0.052px">1</span>4</div>
<div class="t" style="right:250px;top:618.00px;font-size:10.1px;transform:scaleX(0.858);transform-origin:100% 0;"><span class="o" style="font-size:9.35px;letter-spacing:-0.052px">1</span><span class="o" style="font-size:9.35px;letter-spacing:-0.052px">1</span>0</div>
<div class="t" style="right:192px;top:618.00px;font-size:10.1px;transform:translateX(-0.90px) scaleX(0.858);transform-origin:100% 0;"><span class="o" style="font-size:9.35px;letter-spacing:-0.052px">1</span>9</div>
<div class="t" style="right:132px;top:618.00px;font-size:10.1px;transform:scaleX(0.858);transform-origin:100% 0;">35</div>
<div class="t" style="right:81px;top:618.00px;font-size:10.1px;transform:translateX(-0.20px) scaleX(0.858);transform-origin:100% 0;">-</div>
<div class="t" style="right:25px;top:618.00px;font-size:10.1px;transform:scaleX(0.858);transform-origin:100% 0;">-</div>
<div class="t" style="left:3px;top:628.00px;font-size:10.1px;transform:translateX(0.30px) scaleX(0.858);transform-origin:0 0;">Ariz.</div>
<div class="t" style="right:544px;top:628.00px;font-size:10.1px;transform:scaleX(0.858);transform-origin:100% 0;">745</div>
<div class="t" style="right:489px;top:628.00px;font-size:10.1px;transform:translateX(-0.90px) scaleX(0.858);transform-origin:100% 0;">653</div>
<div class="t" style="right:426px;top:628.00px;font-size:10.1px;transform:translateX(-0.90px) scaleX(0.858);transform-origin:100% 0;">536</div>
<div class="t" style="right:365px;top:628.00px;font-size:10.1px;transform:translateX(-0.10px) scaleX(0.858);transform-origin:100% 0;">497</div>
<div class="t" style="right:309px;top:628.00px;font-size:10.1px;transform:translateX(-0.80px) scaleX(0.858);transform-origin:100% 0;"><span class="o" style="font-size:9.35px;letter-spacing:-0.052px">1</span>63</div>
<div class="t" style="right:250px;top:628.00px;font-size:10.1px;transform:scaleX(0.858);transform-origin:100% 0;">279</div>
<div class="t" style="right:192px;top:628.00px;font-size:10.1px;transform:translateX(-0.90px) scaleX(0.858);transform-origin:100% 0;">-</div>
<div class="t" style="right:132px;top:628.00px;font-size:10.1px;transform:scaleX(0.858);transform-origin:100% 0;">-</div>
<div class="t" style="right:81px;top:628.00px;font-size:10.1px;transform:translateX(-0.20px) scaleX(0.858);transform-origin:100% 0;">N</div>
<div class="t" style="right:25px;top:628.00px;font-size:10.1px;transform:scaleX(0.858);transform-origin:100% 0;">N</div>
<div class="t" style="left:3px;top:637.00px;font-size:10.1px;transform:translateX(0.30px) scaleX(0.858);transform-origin:0 0;">Utah</div>
<div class="t" style="right:544px;top:637.00px;font-size:10.1px;transform:scaleX(0.858);transform-origin:100% 0;">230</div>
<div class="t" style="right:489px;top:637.00px;font-size:10.1px;transform:translateX(-0.90px) scaleX(0.858);transform-origin:100% 0;"><span class="o" style="font-size:9.35px;letter-spacing:-0.052px">1</span>78</div>
<div class="t" style="right:426px;top:637.00px;font-size:10.1px;transform:translateX(-0.90px) scaleX(0.858);transform-origin:100% 0;">52</div>
<div class="t" style="right:365px;top:637.00px;font-size:10.1px;transform:translateX(-0.10px) scaleX(0.858);transform-origin:100% 0;">35</div>
<div class="t" style="right:309px;top:637.00px;font-size:10.1px;transform:translateX(-0.80px) scaleX(0.858);transform-origin:100% 0;"><span class="o" style="font-size:9.35px;letter-spacing:-0.052px">1</span><span class="o" style="font-size:9.35px;letter-spacing:-0.052px">1</span></div>
<div class="t" style="right:250px;top:637.00px;font-size:10.1px;transform:scaleX(0.858);transform-origin:100% 0;">3<span class="o" style="font-size:9.35px;letter-spacing:-0.052px">1</span></div>
<div class="t" style="right:192px;top:637.00px;font-size:10.1px;transform:translateX(-0.90px) scaleX(0.858);transform-origin:100% 0;">-</div>
<div class="t" style="right:132px;top:637.00px;font-size:10.1px;transform:scaleX(0.858);transform-origin:100% 0;">-</div>
<div class="t" style="right:81px;top:637.00px;font-size:10.1px;transform:translateX(-0.20px) scaleX(0.858);transform-origin:100% 0;">6</div>
<div class="t" style="right:25px;top:637.00px;font-size:10.1px;transform:scaleX(0.858);transform-origin:100% 0;">5</div>
<div class="t" style="left:3px;top:646.00px;font-size:10.1px;transform:translateX(0.30px) scaleX(0.858);transform-origin:0 0;">Nev.</div>
<div class="t" style="right:544px;top:646.00px;font-size:10.1px;transform:scaleX(0.858);transform-origin:100% 0;"><span class="o" style="font-size:9.35px;letter-spacing:-0.052px">1</span>76</div>
<div class="t" style="right:489px;top:646.00px;font-size:10.1px;transform:translateX(-0.90px) scaleX(0.858);transform-origin:100% 0;">2<span class="o" style="font-size:9.35px;letter-spacing:-0.052px">1</span>4</div>
<div class="t" style="right:426px;top:646.00px;font-size:10.1px;transform:translateX(-0.90px) scaleX(0.858);transform-origin:100% 0;">66</div>
<div class="t" style="right:365px;top:646.00px;font-size:10.1px;transform:translateX(-0.10px) scaleX(0.858);transform-origin:100% 0;">53</div>
<div class="t" style="right:309px;top:646.00px;font-size:10.1px;transform:translateX(-0.80px) scaleX(0.858);transform-origin:100% 0;">2</div>
<div class="t" style="right:250px;top:646.00px;font-size:10.1px;transform:scaleX(0.858);transform-origin:100% 0;">-</div>
<div class="t" style="right:192px;top:646.00px;font-size:10.1px;transform:translateX(-0.90px) scaleX(0.858);transform-origin:100% 0;">-</div>
<div class="t" style="right:132px;top:646.00px;font-size:10.1px;transform:scaleX(0.858);transform-origin:100% 0;"><span class="o" style="font-size:9.35px;letter-spacing:-0.052px">1</span></div>
<div class="t" style="right:81px;top:646.00px;font-size:10.1px;transform:translateX(-0.20px) scaleX(0.858);transform-origin:100% 0;">-</div>
<div class="t" style="right:25px;top:646.00px;font-size:10.1px;transform:scaleX(0.858);transform-origin:100% 0;">-</div>
<div class="t" style="left:3px;top:661.00px;font-size:10.1px;transform:translateX(0.30px) scaleX(0.858);transform-origin:0 0;">PACIFIC</div>
<div class="t" style="right:544px;top:661.00px;font-size:10.1px;transform:scaleX(0.858);transform-origin:100% 0;">5,089</div>
<div class="t" style="right:489px;top:661.00px;font-size:10.1px;transform:translateX(-0.90px) scaleX(0.858);transform-origin:100% 0;">5,294</div>
<div class="t" style="right:426px;top:661.00px;font-size:10.1px;transform:translateX(-0.90px) scaleX(0.858);transform-origin:100% 0;">2,476</div>
<div class="t" style="right:365px;top:661.00px;font-size:10.1px;transform:translateX(-0.10px) scaleX(0.858);transform-origin:100% 0;">3,025</div>
<div class="t" style="right:309px;top:661.00px;font-size:10.1px;transform:translateX(-0.80px) scaleX(0.858);transform-origin:100% 0;">594</div>
<div class="t" style="right:250px;top:661.00px;font-size:10.1px;transform:scaleX(0.858);transform-origin:100% 0;">550</div>
<div class="t" style="right:192px;top:661.00px;font-size:10.1px;transform:translateX(-0.90px) scaleX(0.858);transform-origin:100% 0;">3</div>
<div class="t" style="right:132px;top:661.00px;font-size:10.1px;transform:scaleX(0.858);transform-origin:100% 0;">-</div>
<div class="t" style="right:81px;top:661.00px;font-size:10.1px;transform:translateX(-0.20px) scaleX(0.858);transform-origin:100% 0;">-</div>
<div class="t" style="right:25px;top:661.00px;font-size:10.1px;transform:scaleX(0.858);transform-origin:100% 0;">-</div>
<div class="t" style="left:3px;top:670.00px;font-size:10.1px;transform:translateX(0.30px) scaleX(0.858);transform-origin:0 0;">Wash.</div>
<div class="t" style="right:544px;top:670.00px;font-size:10.1px;transform:scaleX(0.858);transform-origin:100% 0;">556</div>
<div class="t" style="right:489px;top:670.00px;font-size:10.1px;transform:translateX(-0.90px) scaleX(0.858);transform-origin:100% 0;">506</div>
<div class="t" style="right:426px;top:670.00px;font-size:10.1px;transform:translateX(-0.90px) scaleX(0.858);transform-origin:100% 0;"><span class="o" style="font-size:9.35px;letter-spacing:-0.052px">1</span>54</div>
<div class="t" style="right:365px;top:670.00px;font-size:10.1px;transform:translateX(-0.10px) scaleX(0.858);transform-origin:100% 0;"><span class="o" style="font-size:9.35px;letter-spacing:-0.052px">1</span>79</div>
<div class="t" style="right:309px;top:670.00px;font-size:10.1px;transform:translateX(-0.80px) scaleX(0.858);transform-origin:100% 0;">70</div>
<div class="t" style="right:250px;top:670.00px;font-size:10.1px;transform:scaleX(0.858);transform-origin:100% 0;">60</div>
<div class="t" style="right:192px;top:670.00px;font-size:10.1px;transform:translateX(-0.90px) scaleX(0.858);transform-origin:100% 0;">-</div>
<div class="t" style="right:132px;top:670.00px;font-size:10.1px;transform:scaleX(0.858);transform-origin:100% 0;">-</div>
<div class="t" style="right:81px;top:670.00px;font-size:10.1px;transform:translateX(-0.20px) scaleX(0.858);transform-origin:100% 0;">N</div>
<div class="t" style="right:25px;top:670.00px;font-size:10.1px;transform:scaleX(0.858);transform-origin:100% 0;">N</div>
<div class="t" style="left:3px;top:680.00px;font-size:10.1px;transform:translateX(0.30px) scaleX(0.858);transform-origin:0 0;">Oreg.</div>
<div class="t" style="right:544px;top:680.00px;font-size:10.1px;transform:scaleX(0.858);transform-origin:100% 0;">42<span class="o" style="font-size:9.35px;letter-spacing:-0.052px">1</span></div>
<div class="t" style="right:489px;top:680.00px;font-size:10.1px;transform:translateX(-0.90px) scaleX(0.858);transform-origin:100% 0;">335</div>
<div class="t" style="right:426px;top:680.00px;font-size:10.1px;transform:translateX(-0.90px) scaleX(0.858);transform-origin:100% 0;">2<span class="o" style="font-size:9.35px;letter-spacing:-0.052px">1</span>2</div>
<div class="t" style="right:365px;top:680.00px;font-size:10.1px;transform:translateX(-0.10px) scaleX(0.858);transform-origin:100% 0;"><span class="o" style="font-size:9.35px;letter-spacing:-0.052px">1</span>08</div>
<div class="t" style="right:309px;top:680.00px;font-size:10.1px;transform:translateX(-0.80px) scaleX(0.858);transform-origin:100% 0;">N</div>
<div class="t" style="right:250px;top:680.00px;font-size:10.1px;transform:scaleX(0.858);transform-origin:100% 0;">N</div>
<div class="t" style="right:192px;top:680.00px;font-size:10.1px;transform:translateX(-0.90px) scaleX(0.858);transform-origin:100% 0;">N</div>
<div class="t" style="right:132px;top:680.00px;font-size:10.1px;transform:scaleX(0.858);transform-origin:100% 0;">N</div>
<div class="t" style="right:81px;top:680.00px;font-size:10.1px;transform:translateX(-0.20px) scaleX(0.858);transform-origin:100% 0;">N</div>
<div class="t" style="right:25px;top:680.00px;font-size:10.1px;transform:scaleX(0.858);transform-origin:100% 0;">N</div>
<div class="t" style="left:3px;top:689.00px;font-size:10.1px;transform:translateX(0.30px) scaleX(0.858);transform-origin:0 0;">Calif.</div>
<div class="t" style="right:544px;top:689.00px;font-size:10.1px;transform:scaleX(0.858);transform-origin:100% 0;">3,793</div>
<div class="t" style="right:489px;top:689.00px;font-size:10.1px;transform:translateX(-0.90px) scaleX(0.858);transform-origin:100% 0;">4,<span class="o" style="font-size:9.35px;letter-spacing:-0.052px">1</span>06</div>
<div class="t" style="right:426px;top:689.00px;font-size:10.1px;transform:translateX(-0.90px) scaleX(0.858);transform-origin:100% 0;">2,055</div>
<div class="t" style="right:365px;top:689.00px;font-size:10.1px;transform:translateX(-0.10px) scaleX(0.858);transform-origin:100% 0;">2,662</div>
<div class="t" style="right:309px;top:689.00px;font-size:10.1px;transform:translateX(-0.80px) scaleX(0.858);transform-origin:100% 0;">399</div>
<div class="t" style="right:250px;top:689.00px;font-size:10.1px;transform:scaleX(0.858);transform-origin:100% 0;">383</div>
<div class="t" style="right:192px;top:689.00px;font-size:10.1px;transform:translateX(-0.90px) scaleX(0.858);transform-origin:100% 0;">N</div>
<div class="t" style="right:132px;top:689.00px;font-size:10.1px;transform:scaleX(0.858);transform-origin:100% 0;">N</div>
<div class="t" style="right:81px;top:689.00px;font-size:10.1px;transform:translateX(-0.20px) scaleX(0.858);transform-origin:100% 0;">N</div>
<div class="t" style="right:25px;top:689.00px;font-size:10.1px;transform:scaleX(0.858);transform-origin:100% 0;">N</div>
<div class="t" style="left:3px;top:698.00px;font-size:10.1px;transform:translateX(0.30px) scaleX(0.858);transform-origin:0 0;">Alaska</div>
<div class="t" style="right:544px;top:698.00px;font-size:10.1px;transform:scaleX(0.858);transform-origin:100% 0;">96</div>
<div class="t" style="right:489px;top:698.00px;font-size:10.1px;transform:translateX(-0.90px) scaleX(0.858);transform-origin:100% 0;">83</div>
<div class="t" style="right:426px;top:698.00px;font-size:10.1px;transform:translateX(-0.90px) scaleX(0.858);transform-origin:100% 0;"><span class="o" style="font-size:9.35px;letter-spacing:-0.052px">1</span>0</div>
<div class="t" style="right:365px;top:698.00px;font-size:10.1px;transform:translateX(-0.10px) scaleX(0.858);transform-origin:100% 0;">5</div>
<div class="t" style="right:309px;top:698.00px;font-size:10.1px;transform:translateX(-0.80px) scaleX(0.858);transform-origin:100% 0;">-</div>
<div class="t" style="right:250px;top:698.00px;font-size:10.1px;transform:scaleX(0.858);transform-origin:100% 0;">-</div>
<div class="t" style="right:192px;top:698.00px;font-size:10.1px;transform:translateX(-0.90px) scaleX(0.858);transform-origin:100% 0;">-</div>
<div class="t" style="right:132px;top:698.00px;font-size:10.1px;transform:scaleX(0.858);transform-origin:100% 0;">-</div>
<div class="t" style="right:81px;top:698.00px;font-size:10.1px;transform:translateX(-0.20px) scaleX(0.858);transform-origin:100% 0;">N</div>
<div class="t" style="right:25px;top:698.00px;font-size:10.1px;transform:scaleX(0.858);transform-origin:100% 0;">N</div>
<div class="t" style="left:3px;top:708.00px;font-size:10.1px;transform:translateX(0.30px) scaleX(0.858);transform-origin:0 0;">Hawaii</div>
<div class="t" style="right:544px;top:708.00px;font-size:10.1px;transform:scaleX(0.858);transform-origin:100% 0;">223</div>
<div class="t" style="right:489px;top:708.00px;font-size:10.1px;transform:translateX(-0.90px) scaleX(0.858);transform-origin:100% 0;">264</div>
<div class="t" style="right:426px;top:708.00px;font-size:10.1px;transform:translateX(-0.90px) scaleX(0.858);transform-origin:100% 0;">45</div>
<div class="t" style="right:365px;top:708.00px;font-size:10.1px;transform:translateX(-0.10px) scaleX(0.858);transform-origin:100% 0;">7<span class="o" style="font-size:9.35px;letter-spacing:-0.052px">1</span></div>
<div class="t" style="right:309px;top:708.00px;font-size:10.1px;transform:translateX(-0.80px) scaleX(0.858);transform-origin:100% 0;"><span class="o" style="font-size:9.35px;letter-spacing:-0.052px">1</span>25</div>
<div class="t" style="right:250px;top:708.00px;font-size:10.1px;transform:scaleX(0.858);transform-origin:100% 0;"><span class="o" style="font-size:9.35px;letter-spacing:-0.052px">1</span>07</div>
<div class="t" style="right:192px;top:708.00px;font-size:10.1px;transform:translateX(-0.90px) scaleX(0.858);transform-origin:100% 0;">3</div>
<div class="t" style="right:132px;top:708.00px;font-size:10.1px;transform:scaleX(0.858);transform-origin:100% 0;">-</div>
<div class="t" style="right:81px;top:708.00px;font-size:10.1px;transform:translateX(-0.20px) scaleX(0.858);transform-origin:100% 0;">-</div>
<div class="t" style="right:25px;top:708.00px;font-size:10.1px;transform:scaleX(0.858);transform-origin:100% 0;">-</div>
<div class="t" style="left:3px;top:722.00px;font-size:10.1px;transform:translateX(0.30px) scaleX(0.858);transform-origin:0 0;">Guam</div>
<div class="t" style="right:544px;top:722.00px;font-size:10.1px;transform:scaleX(0.858);transform-origin:100% 0;">-</div>
<div class="t" style="right:489px;top:722.00px;font-size:10.1px;transform:translateX(-0.90px) scaleX(0.858);transform-origin:100% 0;">42</div>
<div class="t" style="right:426px;top:722.00px;font-size:10.1px;transform:translateX(-0.90px) scaleX(0.858);transform-origin:100% 0;">-</div>
<div class="t" style="right:365px;top:722.00px;font-size:10.1px;transform:translateX(-0.10px) scaleX(0.858);transform-origin:100% 0;">37</div>
<div class="t" style="right:309px;top:722.00px;font-size:10.1px;transform:translateX(-0.80px) scaleX(0.858);transform-origin:100% 0;">-</div>
<div class="t" style="right:250px;top:722.00px;font-size:10.1px;transform:scaleX(0.858);transform-origin:100% 0;">-</div>
<div class="t" style="right:192px;top:722.00px;font-size:10.1px;transform:translateX(-0.90px) scaleX(0.858);transform-origin:100% 0;">-</div>
<div class="t" style="right:132px;top:722.00px;font-size:10.1px;transform:scaleX(0.858);transform-origin:100% 0;">4</div>
<div class="t" style="right:81px;top:722.00px;font-size:10.1px;transform:translateX(-0.20px) scaleX(0.858);transform-origin:100% 0;">-</div>
<div class="t" style="right:25px;top:722.00px;font-size:10.1px;transform:scaleX(0.858);transform-origin:100% 0;">-</div>
<div class="t" style="left:3px;top:731.00px;font-size:10.1px;transform:translateX(0.30px) scaleX(0.858);transform-origin:0 0;">P.R.</div>
<div class="t" style="right:544px;top:731.00px;font-size:10.1px;transform:scaleX(0.858);transform-origin:100% 0;">350</div>
<div class="t" style="right:489px;top:731.00px;font-size:10.1px;transform:translateX(-0.90px) scaleX(0.858);transform-origin:100% 0;">567</div>
<div class="t" style="right:426px;top:731.00px;font-size:10.1px;transform:translateX(-0.90px) scaleX(0.858);transform-origin:100% 0;">8</div>
<div class="t" style="right:365px;top:731.00px;font-size:10.1px;transform:translateX(-0.10px) scaleX(0.858);transform-origin:100% 0;">3<span class="o" style="font-size:9.35px;letter-spacing:-0.052px">1</span></div>
<div class="t" style="right:309px;top:731.00px;font-size:10.1px;transform:translateX(-0.80px) scaleX(0.858);transform-origin:100% 0;">N</div>
<div class="t" style="right:250px;top:731.00px;font-size:10.1px;transform:scaleX(0.858);transform-origin:100% 0;">N</div>
<div class="t" style="right:192px;top:731.00px;font-size:10.1px;transform:translateX(-0.90px) scaleX(0.858);transform-origin:100% 0;">N</div>
<div class="t" style="right:132px;top:731.00px;font-size:10.1px;transform:scaleX(0.858);transform-origin:100% 0;">N</div>
<div class="t" style="right:81px;top:731.00px;font-size:10.1px;transform:translateX(-0.20px) scaleX(0.858);transform-origin:100% 0;">N</div>
<div class="t" style="right:25px;top:731.00px;font-size:10.1px;transform:scaleX(0.858);transform-origin:100% 0;">N</div>
<div class="t" style="left:3px;top:741.00px;font-size:10.1px;transform:translateX(0.30px) scaleX(0.858);transform-origin:0 0;">V.I.</div>
<div class="t" style="right:544px;top:741.00px;font-size:10.1px;transform:scaleX(0.858);transform-origin:100% 0;">-</div>
<div class="t" style="right:489px;top:741.00px;font-size:10.1px;transform:translateX(-0.90px) scaleX(0.858);transform-origin:100% 0;">-</div>
<div class="t" style="right:426px;top:741.00px;font-size:10.1px;transform:translateX(-0.90px) scaleX(0.858);transform-origin:100% 0;">-</div>
<div class="t" style="right:365px;top:741.00px;font-size:10.1px;transform:translateX(-0.10px) scaleX(0.858);transform-origin:100% 0;">-</div>
<div class="t" style="right:309px;top:741.00px;font-size:10.1px;transform:translateX(-0.80px) scaleX(0.858);transform-origin:100% 0;">-</div>
<div class="t" style="right:250px;top:741.00px;font-size:10.1px;transform:scaleX(0.858);transform-origin:100% 0;">-</div>
<div class="t" style="right:192px;top:741.00px;font-size:10.1px;transform:translateX(-0.90px) scaleX(0.858);transform-origin:100% 0;">-</div>
<div class="t" style="right:132px;top:741.00px;font-size:10.1px;transform:scaleX(0.858);transform-origin:100% 0;">-</div>
<div class="t" style="right:81px;top:741.00px;font-size:10.1px;transform:translateX(-0.20px) scaleX(0.858);transform-origin:100% 0;">-</div>
<div class="t" style="right:25px;top:741.00px;font-size:10.1px;transform:scaleX(0.858);transform-origin:100% 0;">-</div>
<div class="t" style="left:3px;top:750.00px;font-size:10.1px;transform:translateX(0.30px) scaleX(0.858);transform-origin:0 0;">Amer. Samoa</div>
<div class="t" style="right:544px;top:750.00px;font-size:10.1px;transform:scaleX(0.858);transform-origin:100% 0;">U</div>
<div class="t" style="right:489px;top:750.00px;font-size:10.1px;transform:translateX(-0.90px) scaleX(0.858);transform-origin:100% 0;">U</div>
<div class="t" style="right:426px;top:750.00px;font-size:10.1px;transform:translateX(-0.90px) scaleX(0.858);transform-origin:100% 0;">U</div>
<div class="t" style="right:365px;top:750.00px;font-size:10.1px;transform:translateX(-0.10px) scaleX(0.858);transform-origin:100% 0;">U</div>
<div class="t" style="right:309px;top:750.00px;font-size:10.1px;transform:translateX(-0.80px) scaleX(0.858);transform-origin:100% 0;">U</div>
<div class="t" style="right:250px;top:750.00px;font-size:10.1px;transform:scaleX(0.858);transform-origin:100% 0;">U</div>
<div class="t" style="right:192px;top:750.00px;font-size:10.1px;transform:translateX(-0.90px) scaleX(0.858);transform-origin:100% 0;">U</div>
<div class="t" style="right:132px;top:750.00px;font-size:10.1px;transform:scaleX(0.858);transform-origin:100% 0;">U</div>
<div class="t" style="right:81px;top:750.00px;font-size:10.1px;transform:translateX(-0.20px) scaleX(0.858);transform-origin:100% 0;">U</div>
<div class="t" style="right:25px;top:750.00px;font-size:10.1px;transform:scaleX(0.858);transform-origin:100% 0;">U</div>
<div class="t" style="left:3px;top:759.00px;font-size:10.1px;transform:translateX(0.30px) scaleX(0.858);transform-origin:0 0;">C.N.M.I.</div>
<div class="t" style="right:544px;top:759.00px;font-size:10.1px;transform:scaleX(0.858);transform-origin:100% 0;">-</div>
<div class="t" style="right:489px;top:759.00px;font-size:10.1px;transform:translateX(-0.90px) scaleX(0.858);transform-origin:100% 0;">U</div>
<div class="t" style="right:426px;top:759.00px;font-size:10.1px;transform:translateX(-0.90px) scaleX(0.858);transform-origin:100% 0;">-</div>
<div class="t" style="right:365px;top:759.00px;font-size:10.1px;transform:translateX(-0.10px) scaleX(0.858);transform-origin:100% 0;">U</div>
<div class="t" style="right:309px;top:759.00px;font-size:10.1px;transform:translateX(-0.80px) scaleX(0.858);transform-origin:100% 0;">-</div>
<div class="t" style="right:250px;top:759.00px;font-size:10.1px;transform:scaleX(0.858);transform-origin:100% 0;">U</div>
<div class="t" style="right:192px;top:759.00px;font-size:10.1px;transform:translateX(-0.90px) scaleX(0.858);transform-origin:100% 0;">-</div>
<div class="t" style="right:132px;top:759.00px;font-size:10.1px;transform:scaleX(0.858);transform-origin:100% 0;">U</div>
<div class="t" style="right:81px;top:759.00px;font-size:10.1px;transform:translateX(-0.20px) scaleX(0.858);transform-origin:100% 0;">-</div>
<div class="t" style="right:25px;top:759.00px;font-size:10.1px;transform:scaleX(0.858);transform-origin:100% 0;">U</div>
<div class="t" style="left:3px;top:779.00px;font-size:10.1px;transform:translateX(0.30px) scaleX(0.82797);transform-origin:0 0;">N: Not notifiable.</div>
<div class="t" style="left:93px;top:779.00px;font-size:10.1px;transform:translateX(0.50px) scaleX(0.81939);transform-origin:0 0;">U: Unavailable.</div>
<div class="t" style="left:183px;top:779.00px;font-size:10.1px;transform:scaleX(0.858);transform-origin:0 0;">- : No reported cases.</div>
<div class="t" style="left:4px;top:788.00px;font-size:10.1px;transform:translateX(0.60px) scaleX(0.858);transform-origin:0 0;">*</div>
<div class="t" style="left:11px;top:788.00px;font-size:10.1px;transform:translateX(0.50px) scaleX(0.8509644);transform-origin:0 0;">Incidence data for reporting years 2002 and 2003 are provisional and cumulative (year-to-date).</div>
</div></body></html>
